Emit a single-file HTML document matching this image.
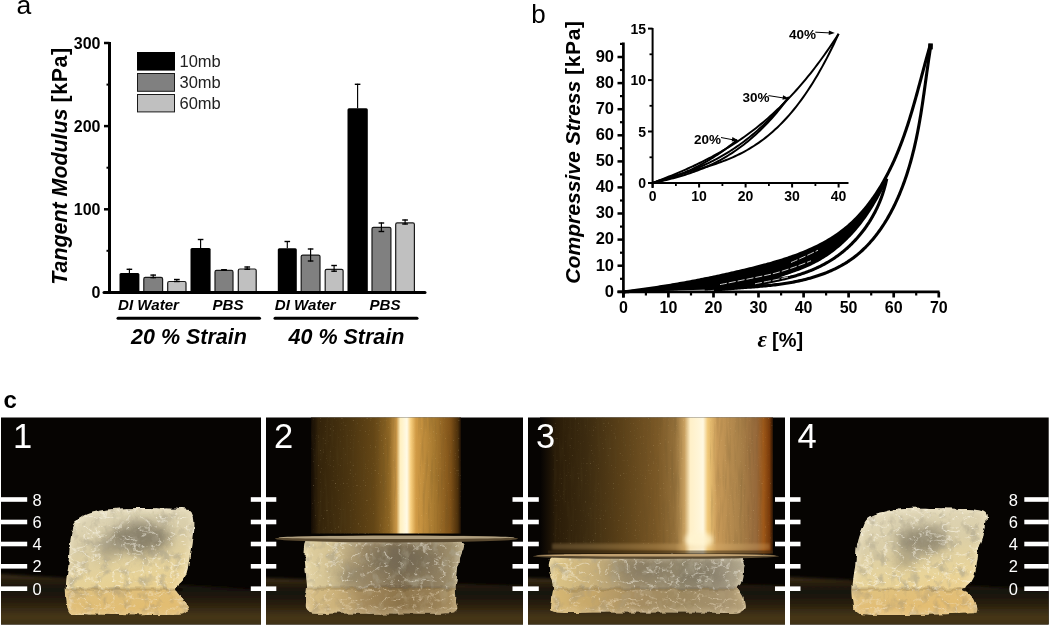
<!DOCTYPE html>
<html><head><meta charset="utf-8"><style>
html,body{margin:0;padding:0;background:#fff;}
body{width:1050px;height:626px;overflow:hidden;position:relative;}
svg{position:absolute;left:0;top:0;will-change:transform;}
text{font-family:"Liberation Sans", sans-serif;}
</style></head><body>
<svg width="1050" height="626" viewBox="0 0 1050 626">
<text x="16.6" y="14.3" font-size="26.5" font-family='"Liberation Sans", sans-serif'>a</text>
<line x1="109.5" y1="42" x2="109.5" y2="293.5" stroke="#000" stroke-width="3"/>
<line x1="104" y1="292.4" x2="109.5" y2="292.4" stroke="#000" stroke-width="2.5"/>
<text x="100.5" y="298.3" text-anchor="end" font-size="16" font-weight="bold">0</text>
<line x1="104" y1="209.3" x2="109.5" y2="209.3" stroke="#000" stroke-width="2.5"/>
<text x="100.5" y="215.2" text-anchor="end" font-size="16" font-weight="bold">100</text>
<line x1="104" y1="126.1" x2="109.5" y2="126.1" stroke="#000" stroke-width="2.5"/>
<text x="100.5" y="132.0" text-anchor="end" font-size="16" font-weight="bold">200</text>
<line x1="104" y1="43.0" x2="109.5" y2="43.0" stroke="#000" stroke-width="2.5"/>
<text x="100.5" y="48.9" text-anchor="end" font-size="16" font-weight="bold">300</text>
<line x1="106.5" y1="250.8" x2="109.5" y2="250.8" stroke="#000" stroke-width="2"/>
<line x1="106.5" y1="167.7" x2="109.5" y2="167.7" stroke="#000" stroke-width="2"/>
<line x1="106.5" y1="84.6" x2="109.5" y2="84.6" stroke="#000" stroke-width="2"/>
<rect x="119.5" y="273.0" width="19.9" height="19.0" rx="1.5" fill="#000"/>
<line x1="129.4" y1="268.7" x2="129.4" y2="273.0" stroke="#000" stroke-width="1.15"/>
<line x1="126.6" y1="269.3" x2="132.2" y2="269.3" stroke="#000" stroke-width="1.4"/>
<rect x="143.8" y="277.4" width="18.8" height="15.2" rx="1.5" fill="#808080" stroke="#1a1a1a" stroke-width="1.2"/>
<line x1="153.2" y1="274.5" x2="153.2" y2="278.2" stroke="#000" stroke-width="1.15"/>
<line x1="150.4" y1="275.1" x2="156.0" y2="275.1" stroke="#000" stroke-width="1.4"/>
<line x1="150.4" y1="277.6" x2="156.0" y2="277.6" stroke="#000" stroke-width="1.4"/>
<rect x="167.7" y="281.5" width="18.3" height="11.1" rx="1.5" fill="#c0c0c0" stroke="#1a1a1a" stroke-width="1.2"/>
<line x1="176.8" y1="278.9" x2="176.8" y2="282.1" stroke="#000" stroke-width="1.15"/>
<line x1="174.0" y1="279.5" x2="179.7" y2="279.5" stroke="#000" stroke-width="1.4"/>
<line x1="174.0" y1="281.5" x2="179.7" y2="281.5" stroke="#000" stroke-width="1.4"/>
<rect x="190.5" y="248.0" width="20.1" height="44.0" rx="1.5" fill="#000"/>
<line x1="200.6" y1="238.9" x2="200.6" y2="248.0" stroke="#000" stroke-width="1.15"/>
<line x1="197.8" y1="239.5" x2="203.4" y2="239.5" stroke="#000" stroke-width="1.4"/>
<rect x="215.0" y="270.4" width="18.0" height="22.2" rx="1.5" fill="#808080" stroke="#1a1a1a" stroke-width="1.2"/>
<line x1="224.0" y1="269.4" x2="224.0" y2="270.4" stroke="#000" stroke-width="1.15"/>
<line x1="221.2" y1="270.0" x2="226.8" y2="270.0" stroke="#000" stroke-width="1.4"/>
<line x1="221.2" y1="269.8" x2="226.8" y2="269.8" stroke="#000" stroke-width="1.4"/>
<rect x="238.3" y="269.0" width="17.9" height="23.6" rx="1.5" fill="#c0c0c0" stroke="#1a1a1a" stroke-width="1.2"/>
<line x1="247.2" y1="266.4" x2="247.2" y2="269.8" stroke="#000" stroke-width="1.15"/>
<line x1="244.4" y1="267.0" x2="250.1" y2="267.0" stroke="#000" stroke-width="1.4"/>
<line x1="244.4" y1="269.2" x2="250.1" y2="269.2" stroke="#000" stroke-width="1.4"/>
<rect x="277.8" y="248.2" width="19.0" height="43.8" rx="1.5" fill="#000"/>
<line x1="287.3" y1="240.9" x2="287.3" y2="248.2" stroke="#000" stroke-width="1.15"/>
<line x1="284.5" y1="241.5" x2="290.1" y2="241.5" stroke="#000" stroke-width="1.4"/>
<rect x="301.2" y="255.1" width="18.8" height="37.5" rx="1.5" fill="#808080" stroke="#1a1a1a" stroke-width="1.2"/>
<line x1="310.6" y1="248.4" x2="310.6" y2="261.6" stroke="#000" stroke-width="1.15"/>
<line x1="307.8" y1="249.0" x2="313.4" y2="249.0" stroke="#000" stroke-width="1.4"/>
<line x1="307.8" y1="261.0" x2="313.4" y2="261.0" stroke="#000" stroke-width="1.4"/>
<rect x="325.2" y="269.3" width="17.9" height="23.3" rx="1.5" fill="#c0c0c0" stroke="#1a1a1a" stroke-width="1.2"/>
<line x1="334.1" y1="264.9" x2="334.1" y2="271.8" stroke="#000" stroke-width="1.15"/>
<line x1="331.3" y1="265.5" x2="336.9" y2="265.5" stroke="#000" stroke-width="1.4"/>
<line x1="331.3" y1="271.2" x2="336.9" y2="271.2" stroke="#000" stroke-width="1.4"/>
<rect x="347.5" y="108.3" width="20.3" height="183.7" rx="1.5" fill="#000"/>
<line x1="357.6" y1="83.7" x2="357.6" y2="108.3" stroke="#000" stroke-width="1.15"/>
<line x1="354.8" y1="84.3" x2="360.4" y2="84.3" stroke="#000" stroke-width="1.4"/>
<rect x="372.0" y="227.3" width="18.9" height="65.3" rx="1.5" fill="#808080" stroke="#1a1a1a" stroke-width="1.2"/>
<line x1="381.4" y1="222.4" x2="381.4" y2="232.1" stroke="#000" stroke-width="1.15"/>
<line x1="378.6" y1="223.0" x2="384.2" y2="223.0" stroke="#000" stroke-width="1.4"/>
<line x1="378.6" y1="231.5" x2="384.2" y2="231.5" stroke="#000" stroke-width="1.4"/>
<rect x="395.7" y="222.9" width="18.7" height="69.7" rx="1.5" fill="#c0c0c0" stroke="#1a1a1a" stroke-width="1.2"/>
<line x1="405.1" y1="219.4" x2="405.1" y2="224.6" stroke="#000" stroke-width="1.15"/>
<line x1="402.2" y1="220.0" x2="407.9" y2="220.0" stroke="#000" stroke-width="1.4"/>
<line x1="402.2" y1="224.0" x2="407.9" y2="224.0" stroke="#000" stroke-width="1.4"/>
<line x1="104" y1="292.4" x2="425" y2="292.4" stroke="#000" stroke-width="3" stroke-linecap="round"/>
<g font-size="15.1" font-weight="bold" font-style="italic">
<text x="118" y="309.8">DI Water</text><text x="212.5" y="309.8">PBS</text>
<text x="274.8" y="309.8">DI Water</text><text x="369.5" y="309.8">PBS</text></g>
<line x1="118" y1="318.3" x2="259.5" y2="318.3" stroke="#000" stroke-width="3" stroke-linecap="round"/>
<line x1="275" y1="318.3" x2="417" y2="318.3" stroke="#000" stroke-width="3" stroke-linecap="round"/>
<g font-size="21.5" font-weight="bold" font-style="italic">
<text x="131" y="343.6">20 % Strain</text><text x="288.5" y="343.6">40 % Strain</text></g>
<rect x="137" y="52" width="38" height="18.6" fill="#000"/>
<rect x="137.5" y="73.5" width="37" height="17.8" fill="#808080" stroke="#1a1a1a" stroke-width="1"/>
<rect x="137.5" y="94.5" width="37" height="17.4" fill="#c0c0c0" stroke="#1a1a1a" stroke-width="1"/>
<g font-size="16.5" fill="#222">
<text x="179.5" y="67.3">10mb</text><text x="179.5" y="88.3">30mb</text><text x="179.5" y="109.3">60mb</text></g>
<text transform="translate(66.5,166) rotate(-90)" text-anchor="middle" font-size="21.4" font-weight="bold"><tspan font-style="italic">Tangent Modulus</tspan> <tspan letter-spacing="0.6">[kPa]</tspan></text>
<text x="531.2" y="22.9" font-size="26" font-family='"Liberation Sans", sans-serif'>b</text>
<line x1="623.4" y1="42.5" x2="623.4" y2="297.5" stroke="#000" stroke-width="2.7"/>
<line x1="617.5" y1="291.8" x2="939.5" y2="291.8" stroke="#000" stroke-width="2.8"/>
<line x1="617.5" y1="291.8" x2="623.4" y2="291.8" stroke="#000" stroke-width="2.5"/>
<text x="614" y="296.6" text-anchor="end" font-size="16.5" font-weight="bold">0</text>
<line x1="620" y1="278.8" x2="623.4" y2="278.8" stroke="#000" stroke-width="2.2"/>
<line x1="617.5" y1="265.7" x2="623.4" y2="265.7" stroke="#000" stroke-width="2.5"/>
<text x="614" y="270.5" text-anchor="end" font-size="16.5" font-weight="bold">10</text>
<line x1="620" y1="252.7" x2="623.4" y2="252.7" stroke="#000" stroke-width="2.2"/>
<line x1="617.5" y1="239.6" x2="623.4" y2="239.6" stroke="#000" stroke-width="2.5"/>
<text x="614" y="244.4" text-anchor="end" font-size="16.5" font-weight="bold">20</text>
<line x1="620" y1="226.6" x2="623.4" y2="226.6" stroke="#000" stroke-width="2.2"/>
<line x1="617.5" y1="213.5" x2="623.4" y2="213.5" stroke="#000" stroke-width="2.5"/>
<text x="614" y="218.3" text-anchor="end" font-size="16.5" font-weight="bold">30</text>
<line x1="620" y1="200.5" x2="623.4" y2="200.5" stroke="#000" stroke-width="2.2"/>
<line x1="617.5" y1="187.4" x2="623.4" y2="187.4" stroke="#000" stroke-width="2.5"/>
<text x="614" y="192.2" text-anchor="end" font-size="16.5" font-weight="bold">40</text>
<line x1="620" y1="174.4" x2="623.4" y2="174.4" stroke="#000" stroke-width="2.2"/>
<line x1="617.5" y1="161.4" x2="623.4" y2="161.4" stroke="#000" stroke-width="2.5"/>
<text x="614" y="166.2" text-anchor="end" font-size="16.5" font-weight="bold">50</text>
<line x1="620" y1="148.3" x2="623.4" y2="148.3" stroke="#000" stroke-width="2.2"/>
<line x1="617.5" y1="135.3" x2="623.4" y2="135.3" stroke="#000" stroke-width="2.5"/>
<text x="614" y="140.1" text-anchor="end" font-size="16.5" font-weight="bold">60</text>
<line x1="620" y1="122.2" x2="623.4" y2="122.2" stroke="#000" stroke-width="2.2"/>
<line x1="617.5" y1="109.2" x2="623.4" y2="109.2" stroke="#000" stroke-width="2.5"/>
<text x="614" y="114.0" text-anchor="end" font-size="16.5" font-weight="bold">70</text>
<line x1="620" y1="96.1" x2="623.4" y2="96.1" stroke="#000" stroke-width="2.2"/>
<line x1="617.5" y1="83.1" x2="623.4" y2="83.1" stroke="#000" stroke-width="2.5"/>
<text x="614" y="87.9" text-anchor="end" font-size="16.5" font-weight="bold">80</text>
<line x1="620" y1="70.0" x2="623.4" y2="70.0" stroke="#000" stroke-width="2.2"/>
<line x1="617.5" y1="57.0" x2="623.4" y2="57.0" stroke="#000" stroke-width="2.5"/>
<text x="614" y="61.8" text-anchor="end" font-size="16.5" font-weight="bold">90</text>
<line x1="620" y1="43.9" x2="623.4" y2="43.9" stroke="#000" stroke-width="2.2"/>
<line x1="623.4" y1="291.8" x2="623.4" y2="297.5" stroke="#000" stroke-width="2.7"/>
<text x="623.4" y="312.5" text-anchor="middle" font-size="16" font-weight="bold">0</text>
<line x1="645.9" y1="291.8" x2="645.9" y2="295.5" stroke="#000" stroke-width="2.2"/>
<line x1="668.4" y1="291.8" x2="668.4" y2="297.5" stroke="#000" stroke-width="2.7"/>
<text x="668.4" y="312.5" text-anchor="middle" font-size="16" font-weight="bold">10</text>
<line x1="691.0" y1="291.8" x2="691.0" y2="295.5" stroke="#000" stroke-width="2.2"/>
<line x1="713.5" y1="291.8" x2="713.5" y2="297.5" stroke="#000" stroke-width="2.7"/>
<text x="713.5" y="312.5" text-anchor="middle" font-size="16" font-weight="bold">20</text>
<line x1="736.0" y1="291.8" x2="736.0" y2="295.5" stroke="#000" stroke-width="2.2"/>
<line x1="758.5" y1="291.8" x2="758.5" y2="297.5" stroke="#000" stroke-width="2.7"/>
<text x="758.5" y="312.5" text-anchor="middle" font-size="16" font-weight="bold">30</text>
<line x1="781.1" y1="291.8" x2="781.1" y2="295.5" stroke="#000" stroke-width="2.2"/>
<line x1="803.6" y1="291.8" x2="803.6" y2="297.5" stroke="#000" stroke-width="2.7"/>
<text x="803.6" y="312.5" text-anchor="middle" font-size="16" font-weight="bold">40</text>
<line x1="826.1" y1="291.8" x2="826.1" y2="295.5" stroke="#000" stroke-width="2.2"/>
<line x1="848.6" y1="291.8" x2="848.6" y2="297.5" stroke="#000" stroke-width="2.7"/>
<text x="848.6" y="312.5" text-anchor="middle" font-size="16" font-weight="bold">50</text>
<line x1="871.2" y1="291.8" x2="871.2" y2="295.5" stroke="#000" stroke-width="2.2"/>
<line x1="893.7" y1="291.8" x2="893.7" y2="297.5" stroke="#000" stroke-width="2.7"/>
<text x="893.7" y="312.5" text-anchor="middle" font-size="16" font-weight="bold">60</text>
<line x1="916.2" y1="291.8" x2="916.2" y2="295.5" stroke="#000" stroke-width="2.2"/>
<line x1="938.8" y1="291.8" x2="938.8" y2="297.5" stroke="#000" stroke-width="2.7"/>
<text x="938.8" y="312.5" text-anchor="middle" font-size="16" font-weight="bold">70</text>
<text transform="translate(579.5,152) rotate(-90)" text-anchor="middle" font-size="21.1" font-weight="bold"><tspan font-style="italic">Compressive Stress</tspan> <tspan letter-spacing="0.6">[kPa]</tspan></text>
<text x="757.5" y="347" font-size="23" font-weight="bold" font-style="italic" style="font-family:&quot;Liberation Serif&quot;, serif">&#949;</text>
<text x="772" y="346.5" font-size="20" font-weight="bold">[%]</text>
<line x1="652.6" y1="28" x2="652.6" y2="188" stroke="#000" stroke-width="2"/>
<line x1="648" y1="183.0" x2="848.5" y2="183.0" stroke="#000" stroke-width="2"/>
<line x1="648" y1="183.0" x2="652.6" y2="183.0" stroke="#000" stroke-width="2"/>
<text x="646" y="188.0" text-anchor="end" font-size="14" font-weight="bold">0</text>
<line x1="649.5" y1="157.3" x2="652.6" y2="157.3" stroke="#000" stroke-width="1.8"/>
<line x1="648" y1="131.5" x2="652.6" y2="131.5" stroke="#000" stroke-width="2"/>
<text x="646" y="136.5" text-anchor="end" font-size="14" font-weight="bold">5</text>
<line x1="649.5" y1="105.8" x2="652.6" y2="105.8" stroke="#000" stroke-width="1.8"/>
<line x1="648" y1="80.1" x2="652.6" y2="80.1" stroke="#000" stroke-width="2"/>
<text x="646" y="85.1" text-anchor="end" font-size="14" font-weight="bold">10</text>
<line x1="649.5" y1="54.3" x2="652.6" y2="54.3" stroke="#000" stroke-width="1.8"/>
<line x1="648" y1="28.6" x2="652.6" y2="28.6" stroke="#000" stroke-width="2"/>
<text x="646" y="33.6" text-anchor="end" font-size="14" font-weight="bold">15</text>
<line x1="652.6" y1="183.0" x2="652.6" y2="187.5" stroke="#000" stroke-width="2"/>
<text x="652.6" y="201" text-anchor="middle" font-size="14" font-weight="bold">0</text>
<line x1="675.9" y1="183.0" x2="675.9" y2="186" stroke="#000" stroke-width="1.8"/>
<line x1="699.1" y1="183.0" x2="699.1" y2="187.5" stroke="#000" stroke-width="2"/>
<text x="699.1" y="201" text-anchor="middle" font-size="14" font-weight="bold">10</text>
<line x1="722.4" y1="183.0" x2="722.4" y2="186" stroke="#000" stroke-width="1.8"/>
<line x1="745.6" y1="183.0" x2="745.6" y2="187.5" stroke="#000" stroke-width="2"/>
<text x="745.6" y="201" text-anchor="middle" font-size="14" font-weight="bold">20</text>
<line x1="768.9" y1="183.0" x2="768.9" y2="186" stroke="#000" stroke-width="1.8"/>
<line x1="792.1" y1="183.0" x2="792.1" y2="187.5" stroke="#000" stroke-width="2"/>
<text x="792.1" y="201" text-anchor="middle" font-size="14" font-weight="bold">30</text>
<line x1="815.4" y1="183.0" x2="815.4" y2="186" stroke="#000" stroke-width="1.8"/>
<line x1="838.6" y1="183.0" x2="838.6" y2="187.5" stroke="#000" stroke-width="2"/>
<text x="838.6" y="201" text-anchor="middle" font-size="14" font-weight="bold">40</text>
<path d="M623.40,291.84 L625.30,291.62 L627.19,291.39 L629.09,291.16 L630.98,290.93 L632.88,290.69 L634.78,290.45 L636.67,290.21 L638.57,289.96 L640.46,289.71 L642.36,289.45 L644.26,289.19 L646.15,288.93 L648.05,288.66 L649.94,288.39 L651.84,288.12 L653.74,287.84 L655.63,287.56 L657.53,287.27 L659.42,286.98 L661.32,286.69 L663.22,286.39 L665.11,286.09 L667.01,285.78 L668.90,285.47 L670.80,285.16 L672.70,284.84 L674.59,284.52 L676.49,284.20 L678.38,283.87 L680.28,283.54 L682.18,283.20 L684.07,282.86 L685.97,282.52 L687.86,282.17 L689.76,281.82 L691.66,281.47 L693.55,281.11 L695.45,280.74 L697.34,280.38 L699.24,280.01 L701.14,279.63 L703.03,279.26 L704.93,278.87 L706.82,278.49 L708.72,278.10 L710.62,277.71 L712.51,277.31 L714.41,276.91 L716.30,276.51 L718.20,276.10 L720.10,275.69 L721.99,275.28 L723.89,274.86 L725.78,274.44 L727.68,274.02 L729.58,273.59 L731.47,273.16 L733.37,272.72 L735.26,272.28 L737.16,271.84 L739.06,271.40 L740.95,270.95 L742.85,270.50 L744.74,270.04 L746.64,269.59 L748.54,269.12 L750.43,268.66 L752.33,268.19 L754.22,267.72 L756.12,267.24 L758.02,266.76 L759.91,266.27 L761.81,265.77 L763.70,265.27 L765.60,264.76 L767.50,264.24 L769.39,263.72 L771.29,263.18 L773.18,262.64 L775.08,262.09 L776.98,261.53 L778.87,260.96 L780.77,260.38 L782.66,259.78 L784.56,259.18 L786.46,258.56 L788.35,257.93 L790.25,257.28 L792.14,256.62 L794.04,255.95 L795.94,255.26 L797.83,254.55 L799.73,253.83 L801.62,253.09 L803.52,252.33 L805.41,251.55 L807.31,250.75 L809.21,249.93 L811.10,249.08 L813.00,248.21 L814.89,247.32 L816.79,246.40 L818.69,245.46 L820.58,244.49 L822.48,243.48 L824.37,242.45 L826.27,241.38 L828.17,240.28 L830.06,239.14 L831.96,237.96 L833.85,236.74 L835.75,235.48 L837.65,234.17 L839.54,232.82 L841.44,231.41 L843.33,229.95 L845.23,228.43 L847.13,226.85 L849.02,225.20 L850.92,223.49 L852.81,221.72 L854.71,219.88 L856.61,217.97 L858.50,215.98 L860.40,213.92 L862.29,211.79 L864.19,209.57 L866.09,207.27 L867.98,204.87 L869.88,202.39 L871.77,199.82 L873.67,197.14 L875.57,194.36 L877.46,191.48 L879.36,188.48 L881.25,185.36 L883.15,182.11 L885.05,178.74 L886.94,175.22 L886.94,178.63 L885.38,180.96 L883.81,184.23 L882.25,187.41 L880.68,190.49 L879.12,193.47 L877.55,196.37 L875.99,199.18 L874.42,201.90 L872.85,204.54 L871.29,207.09 L869.72,209.57 L868.16,211.97 L866.59,214.30 L865.03,216.56 L863.46,218.74 L861.90,220.86 L860.33,222.91 L858.77,224.90 L857.20,226.83 L855.64,228.70 L854.07,230.51 L852.51,232.27 L850.94,233.97 L849.38,235.63 L847.81,237.24 L846.24,238.80 L844.68,240.31 L843.11,241.78 L841.55,243.21 L839.98,244.59 L838.42,245.94 L836.85,247.24 L835.29,248.51 L833.72,249.74 L832.16,250.93 L830.59,252.09 L829.03,253.21 L827.46,254.29 L825.90,255.35 L824.33,256.36 L822.77,257.35 L821.20,258.31 L819.63,259.23 L818.07,260.12 L816.50,260.98 L814.94,261.82 L813.37,262.62 L811.81,263.41 L810.24,264.16 L808.68,264.89 L807.11,265.60 L805.55,266.29 L803.98,266.95 L802.42,267.59 L800.85,268.22 L799.29,268.82 L797.72,269.41 L796.16,269.98 L794.59,270.53 L794.59,281.79 L793.12,282.08 L791.65,282.35 L790.18,282.62 L788.71,282.87 L787.23,283.12 L785.76,283.36 L784.29,283.59 L782.82,283.81 L781.35,284.02 L779.88,284.23 L778.41,284.43 L776.94,284.62 L775.47,284.80 L774.00,284.97 L772.52,285.14 L771.05,285.31 L769.58,285.46 L768.11,285.62 L766.64,285.76 L765.17,285.90 L763.70,286.04 L762.23,286.17 L760.76,286.30 L759.29,286.43 L757.81,286.55 L756.34,286.67 L754.87,286.78 L753.40,286.90 L751.93,287.01 L750.46,287.12 L748.99,287.23 L747.52,287.34 L746.05,287.44 L744.58,287.55 L743.10,287.66 L741.63,287.76 L740.16,287.87 L738.69,287.98 L737.22,288.09 L735.75,288.20 L734.28,288.31 L732.81,288.43 L731.34,288.55 L729.87,288.67 L728.39,288.79 L726.92,288.92 L725.45,289.06 L723.98,289.19 L722.51,289.34 L623.40,291.80 Z" fill="#000"/>
<path d="M778.82,277.60 L780.62,277.00 L782.41,276.38 L784.21,275.73 L786.00,275.07 L787.79,274.38 L789.59,273.66 L791.38,272.92 L793.18,272.15 L794.97,271.36 L796.77,270.53 L798.56,269.68 L800.35,268.79 L802.15,267.88 L803.94,266.97 L805.74,266.20 L807.53,265.41 L809.33,264.59 L811.12,263.74 L812.92,262.86 L814.71,261.94 L816.50,260.98 L818.30,259.99 L820.09,258.96 L821.89,257.89 L823.68,256.78 L825.48,255.62 L827.27,254.42 L829.06,253.18 L830.86,251.89 L832.65,250.56 L834.45,249.18 L836.24,247.74 L838.04,246.26 L839.83,244.73 L841.63,243.14 L843.42,241.50 L845.21,239.80 L847.01,238.04 L848.80,236.22 L850.60,234.34 L852.39,232.39 L854.19,230.38 L855.98,228.29 L857.77,226.13 L859.57,223.89 L861.36,221.57 L863.16,219.16 L864.95,216.67 L866.75,214.08 L868.54,211.40 L870.34,208.61 L872.13,205.73 L873.92,202.74 L875.72,199.65 L877.51,196.44 L879.31,193.11 L881.10,189.67 L882.90,186.10 L884.69,182.41 L884.69,187.26 L882.90,193.20 L881.10,198.30 L879.31,202.81 L877.51,206.88 L875.72,210.61 L873.92,214.06 L872.13,217.27 L870.34,220.28 L868.54,223.12 L866.75,225.80 L864.95,228.34 L863.16,230.75 L861.36,233.05 L859.57,235.24 L857.77,237.34 L855.98,239.35 L854.19,241.27 L852.39,243.11 L850.60,244.88 L848.80,246.58 L847.01,248.21 L845.21,249.78 L843.42,251.29 L841.63,252.74 L839.83,254.13 L838.04,255.48 L836.24,256.76 L834.45,258.00 L832.65,259.20 L830.86,260.34 L829.06,261.44 L827.27,262.50 L825.48,263.51 L823.68,264.48 L821.89,265.42 L820.09,266.32 L818.30,267.19 L816.50,268.02 L814.71,268.82 L812.92,269.60 L811.12,270.34 L809.33,271.06 L807.53,271.75 L805.74,272.41 L803.94,273.05 L802.15,273.49 L800.35,273.88 L798.56,274.25 L796.77,274.61 L794.97,274.96 L793.18,275.29 L791.38,275.62 L789.59,275.93 L787.79,276.23 L786.00,276.52 L784.21,276.81 L782.41,277.08 L780.62,277.34 L778.82,277.60 Z" fill="#fff"/>
<path d="M763.05,284.45 L765.12,284.07 L767.18,283.67 L769.24,283.25 L771.30,282.80 L773.36,282.33 L775.42,281.84 L777.49,281.31 L779.55,280.76 L781.61,280.19 L783.67,279.58 L785.73,278.94 L787.79,278.27 L789.86,277.56 L791.92,276.82 L793.98,276.21 L796.04,275.61 L798.10,274.98 L800.16,274.33 L802.23,273.64 L804.29,272.93 L806.35,272.19 L808.41,271.41 L810.47,270.60 L812.53,269.76 L814.60,268.87 L816.66,267.95 L818.72,266.99 L820.78,265.98 L822.84,264.93 L824.90,263.83 L826.96,262.67 L829.03,261.46 L831.09,260.20 L833.15,258.87 L835.21,257.48 L837.27,256.03 L839.33,254.51 L841.40,252.92 L843.46,251.26 L845.52,249.52 L847.58,247.70 L849.64,245.80 L851.70,243.80 L853.77,241.71 L855.83,239.52 L857.89,237.21 L859.95,234.79 L862.01,232.23 L864.07,229.53 L866.14,226.68 L868.20,223.64 L870.26,220.41 L872.32,216.94 L874.38,213.20 L876.44,209.14 L878.51,204.68 L880.57,199.70 L882.63,194.01 L884.69,187.26 L884.69,222.92 L882.63,226.11 L880.57,229.15 L878.51,232.03 L876.44,234.77 L874.38,237.39 L872.32,239.87 L870.26,242.24 L868.20,244.50 L866.14,246.64 L864.07,248.69 L862.01,250.64 L859.95,252.49 L857.89,254.25 L855.83,255.93 L853.77,257.53 L851.70,259.04 L849.64,260.48 L847.58,261.85 L845.52,263.15 L843.46,264.38 L841.40,265.56 L839.33,266.68 L837.27,267.75 L835.21,268.78 L833.15,269.75 L831.09,270.68 L829.03,271.57 L826.96,272.42 L824.90,273.24 L822.84,274.02 L820.78,274.76 L818.72,275.47 L816.66,276.15 L814.60,276.80 L812.53,277.42 L810.47,278.02 L808.41,278.59 L806.35,279.13 L804.29,279.65 L802.23,280.15 L800.16,280.62 L798.10,281.07 L796.04,281.50 L793.98,281.91 L791.92,282.26 L789.86,282.45 L787.79,282.63 L785.73,282.80 L783.67,282.97 L781.61,283.14 L779.55,283.29 L777.49,283.45 L775.42,283.60 L773.36,283.75 L771.30,283.89 L769.24,284.03 L767.18,284.17 L765.12,284.31 L763.05,284.45 Z" fill="#fff"/>
<path d="M623.37,291.84 L625.15,291.63 L626.93,291.42 L628.92,291.18 L630.69,290.96 L632.46,290.74 L634.44,290.49 L636.20,290.27 L637.96,290.04 L639.94,289.78 L641.69,289.54 L643.66,289.27 L645.41,289.03 L647.16,288.79 L649.12,288.51 L650.86,288.26 L652.60,288.01 L654.55,287.72 L656.29,287.46 L658.02,287.19 L659.97,286.90 L661.70,286.63 L663.65,286.32 L665.38,286.05 L667.10,285.77 L669.04,285.45 L670.77,285.17 L672.49,284.88 L674.42,284.55 L676.14,284.26 L677.86,283.96 L679.79,283.62 L681.51,283.32 L683.44,282.98 L685.15,282.67 L686.87,282.35 L688.79,282.00 L690.51,281.68 L692.22,281.36 L694.15,280.99 L695.86,280.66 L697.57,280.33 L699.49,279.96 L701.20,279.62 L703.13,279.24 L704.84,278.89 L706.55,278.55 L708.48,278.15 L710.19,277.80 L711.90,277.44 L713.82,277.04 L715.54,276.67 L717.25,276.31 L719.18,275.89 L720.89,275.52 L722.82,275.10 L724.54,274.72 L726.25,274.34 L728.19,273.90 L729.90,273.51 L731.62,273.12 L733.56,272.68 L735.28,272.28 L737.01,271.88 L738.95,271.42 L740.67,271.02 L742.62,270.55 L744.35,270.14 L746.08,269.72 L748.03,269.25 L749.76,268.82 L751.50,268.40 L753.45,267.91 L755.19,267.47 L756.92,267.03 L758.88,266.53 L760.62,266.08 L762.57,265.57 L764.31,265.11 L766.04,264.64 L767.99,264.11 L769.72,263.63 L771.45,263.14 L773.40,262.58 L775.12,262.08 L776.84,261.57 L778.78,260.99 L780.49,260.46 L782.42,259.86 L784.12,259.32 L785.83,258.77 L787.74,258.14 L789.43,257.56 L791.12,256.98 L793.01,256.32 L794.69,255.72 L796.36,255.11 L798.23,254.40 L799.88,253.77 L801.74,253.04 L803.38,252.38 L805.02,251.71 L806.85,250.95 L808.46,250.25 L810.07,249.54 L811.88,248.73 L813.47,248.00 L815.05,247.25 L816.82,246.39 L818.38,245.61 L820.13,244.72 L821.67,243.91 L823.20,243.09 L824.91,242.15 L826.42,241.30 L827.91,240.43 L829.58,239.43 L831.05,238.53 L832.51,237.61 L834.14,236.56 L835.57,235.60 L837.17,234.51 L838.57,233.52 L839.96,232.51 L841.51,231.36 L842.87,230.31 L844.22,229.25 L845.71,228.03 L847.03,226.93 L848.33,225.81 L849.78,224.53 L851.05,223.37 L852.47,222.05 L853.71,220.86 L854.94,219.66 L856.30,218.28 L857.50,217.04 L858.69,215.79 L860.01,214.36 L861.16,213.07 L862.31,211.77 L863.58,210.29 L864.70,208.96 L865.94,207.45 L867.02,206.09 L868.10,204.72 L869.29,203.17 L870.34,201.77 L871.38,200.36 L872.53,198.76 L873.54,197.33 L874.54,195.89 L875.64,194.25 L876.61,192.78 L877.69,191.12 L878.64,189.64 L879.57,188.14 L880.60,186.44 L881.51,184.93 L882.41,183.40 L883.40,181.67 L884.27,180.13 L885.13,178.58 L886.09,176.83 L886.92,175.26 L887.85,173.49 L888.66,171.91 L889.46,170.32 L890.35,168.53 L891.13,166.93 L891.89,165.32 L892.74,163.51 L893.49,161.89 L894.22,160.27 L895.03,158.44 L895.74,156.81 L896.53,154.97 L897.22,153.33 L897.90,151.69 L898.65,149.84 L899.31,148.18 L899.96,146.53 L900.69,144.66 L901.32,143.00 L901.94,141.34 L902.64,139.46 L903.24,137.79 L903.92,135.91 L904.51,134.23 L905.09,132.55 L905.74,130.66 L906.31,128.98 L906.87,127.29 L907.50,125.39 L908.04,123.70 L908.59,122.01 L909.19,120.10 L909.72,118.41 L910.31,116.50 L910.83,114.80 L911.34,113.10 L911.91,111.19 L912.42,109.48 L912.92,107.78 L913.47,105.87 L913.96,104.16 L914.45,102.46 L914.99,100.54 L915.47,98.84 L916.01,96.92 L916.48,95.22 L916.95,93.52 L917.48,91.60 L917.94,89.90 L918.40,88.20 L918.92,86.28 L919.38,84.58 L919.84,82.89 L920.35,80.98 L920.81,79.28 L921.32,77.37 L921.77,75.68 L922.22,73.99 L922.73,72.09 L923.19,70.40 L923.64,68.72 L924.15,66.82 L924.60,65.14 L925.06,63.47 L925.57,61.58 L926.03,59.91 L926.55,58.03 L927.01,56.37 L927.47,54.70 L927.99,52.84 L928.46,51.18 L928.93,49.53 L929.46,47.67 L929.94,46.03 L930.48,44.18" fill="none" stroke="#000" stroke-width="3.1" stroke-linejoin="round" stroke-linecap="butt"/>
<path d="M713.89,290.31 L715.31,290.13 L716.74,289.96 L718.35,289.78 L719.78,289.62 L721.23,289.47 L722.86,289.30 L724.31,289.16 L725.77,289.03 L727.42,288.88 L728.89,288.75 L730.55,288.61 L732.03,288.49 L733.52,288.37 L735.19,288.24 L736.69,288.13 L738.18,288.02 L739.87,287.89 L741.38,287.78 L742.89,287.67 L744.59,287.55 L746.10,287.44 L747.81,287.31 L749.33,287.20 L750.85,287.09 L752.57,286.96 L754.10,286.84 L755.63,286.73 L757.35,286.59 L758.89,286.46 L760.42,286.33 L762.15,286.18 L763.69,286.04 L765.42,285.88 L766.96,285.73 L768.50,285.58 L770.23,285.40 L771.77,285.23 L773.31,285.05 L775.05,284.85 L776.59,284.66 L778.13,284.46 L779.86,284.23 L781.40,284.02 L783.13,283.77 L784.67,283.53 L786.20,283.29 L787.93,283.01 L789.46,282.74 L790.99,282.47 L792.71,282.15 L794.23,281.86 L795.76,281.56 L797.46,281.21 L798.98,280.88 L800.68,280.50 L802.18,280.16 L803.68,279.80 L805.37,279.38 L806.86,279.00 L808.35,278.60 L810.01,278.15 L811.49,277.73 L812.96,277.30 L814.60,276.80 L816.06,276.34 L817.69,275.81 L819.13,275.33 L820.57,274.83 L822.17,274.26 L823.59,273.74 L825.00,273.20 L826.58,272.58 L827.98,272.01 L829.36,271.43 L830.91,270.76 L832.28,270.15 L833.80,269.45 L835.15,268.81 L836.48,268.15 L837.98,267.40 L839.29,266.71 L840.59,266.00 L842.05,265.20 L843.33,264.46 L844.60,263.71 L846.01,262.84 L847.26,262.06 L848.64,261.15 L849.86,260.33 L851.06,259.50 L852.40,258.54 L853.58,257.66 L854.75,256.78 L856.05,255.76 L857.18,254.84 L858.31,253.90 L859.56,252.83 L860.66,251.86 L861.89,250.75 L862.96,249.75 L864.03,248.73 L865.21,247.58 L866.24,246.53 L867.27,245.47 L868.41,244.27 L869.41,243.18 L870.40,242.08 L871.50,240.83 L872.46,239.71 L873.53,238.42 L874.47,237.27 L875.40,236.11 L876.44,234.78 L877.34,233.60 L878.24,232.40 L879.23,231.03 L880.10,229.81 L880.96,228.58 L881.91,227.18 L882.75,225.92 L883.68,224.50 L884.50,223.23 L885.30,221.94 L886.19,220.49 L886.97,219.18 L887.75,217.87 L888.60,216.38 L889.35,215.05 L890.09,213.71 L890.91,212.20 L891.63,210.84 L892.43,209.31 L893.13,207.94 L893.82,206.56 L894.58,205.00 L895.25,203.61 L895.91,202.21 L896.63,200.63 L897.27,199.22 L897.90,197.81 L898.60,196.21 L899.21,194.78 L899.88,193.17 L900.47,191.73 L901.05,190.29 L901.70,188.66 L902.26,187.21 L902.81,185.76 L903.42,184.12 L903.96,182.66 L904.49,181.19 L905.07,179.54 L905.58,178.07 L906.14,176.41 L906.63,174.94 L907.11,173.46 L907.65,171.79 L908.11,170.31 L908.57,168.83 L909.08,167.16 L909.52,165.67 L909.95,164.19 L910.43,162.52 L910.84,161.03 L911.30,159.36 L911.70,157.87 L912.10,156.38 L912.53,154.71 L912.91,153.23 L913.28,151.74 L913.69,150.07 L914.05,148.58 L914.40,147.10 L914.79,145.43 L915.12,143.94 L915.50,142.27 L915.82,140.79 L916.14,139.30 L916.49,137.63 L916.80,136.15 L917.10,134.66 L917.44,132.99 L917.73,131.51 L918.01,130.02 L918.33,128.35 L918.61,126.86 L918.91,125.19 L919.18,123.71 L919.45,122.22 L919.74,120.55 L919.99,119.07 L920.24,117.58 L920.52,115.91 L920.77,114.42 L921.01,112.94 L921.28,111.27 L921.51,109.78 L921.77,108.11 L922.00,106.62 L922.23,105.13 L922.48,103.46 L922.70,101.97 L922.92,100.49 L923.16,98.81 L923.38,97.33 L923.59,95.84 L923.83,94.16 L924.04,92.67 L924.28,91.00 L924.49,89.51 L924.70,88.02 L924.93,86.34 L925.14,84.85 L925.34,83.36 L925.57,81.69 L925.78,80.20 L925.99,78.70 L926.22,77.03 L926.42,75.53 L926.66,73.85 L926.86,72.36 L927.07,70.87 L927.31,69.19 L927.52,67.69 L927.73,66.20 L927.97,64.52 L928.18,63.02 L928.40,61.52 L928.64,59.84 L928.86,58.34 L929.11,56.66 L929.34,55.16 L929.57,53.66 L929.82,51.97 L930.06,50.47 L930.29,48.97 L930.56,47.28 L930.80,45.78 L931.08,44.09" fill="none" stroke="#000" stroke-width="3.1" stroke-linejoin="round" stroke-linecap="butt"/>
<path d="M704.63,289.14 L705.51,289.05 L706.39,288.96 L707.39,288.86 L708.28,288.78 L709.17,288.69 L710.17,288.60 L711.07,288.51 L711.96,288.43 L712.98,288.33 L713.88,288.25 L714.89,288.15 L715.80,288.07 L716.70,287.99 L717.72,287.89 L718.63,287.81 L719.54,287.73 L720.57,287.63 L721.48,287.55 L722.40,287.46 L723.43,287.37 L724.34,287.28 L725.38,287.19 L726.30,287.10 L727.22,287.01 L728.26,286.91 L729.18,286.83 L730.11,286.74 L731.15,286.64 L732.08,286.55 L733.00,286.46 L734.05,286.35 L734.98,286.26 L736.03,286.16 L736.96,286.06 L737.89,285.96 L738.94,285.85 L739.87,285.76 L740.80,285.66 L741.86,285.54 L742.79,285.44 L743.73,285.34 L744.78,285.22 L745.71,285.11 L746.77,284.99 L747.70,284.88 L748.64,284.76 L749.70,284.64 L750.63,284.52 L751.57,284.40 L752.62,284.27 L753.56,284.15 L754.50,284.02 L755.55,283.88 L756.49,283.75 L757.54,283.61 L758.48,283.48 L759.42,283.34 L760.47,283.19 L761.41,283.05 L762.34,282.90 L763.39,282.74 L764.33,282.60 L765.26,282.45 L766.31,282.27 L767.24,282.12 L768.29,281.94 L769.22,281.78 L770.15,281.62 L771.20,281.43 L772.12,281.26 L773.05,281.09 L774.09,280.89 L775.02,280.71 L775.94,280.53 L776.98,280.32 L777.91,280.13 L778.94,279.91 L779.86,279.72 L780.78,279.52 L781.81,279.29 L782.73,279.08 L783.64,278.87 L784.67,278.63 L785.58,278.41 L786.49,278.19 L787.51,277.94 L788.42,277.71 L789.44,277.45 L790.34,277.21 L791.24,276.97 L792.25,276.69 L793.15,276.44 L794.05,276.19 L795.05,275.90 L795.95,275.64 L796.84,275.37 L797.83,275.06 L798.72,274.79 L799.71,274.47 L800.60,274.19 L801.47,273.90 L802.46,273.56 L803.33,273.26 L804.21,272.96 L805.18,272.61 L806.05,272.30 L806.92,271.98 L807.89,271.61 L808.74,271.28 L809.71,270.91 L810.56,270.57 L811.41,270.22 L812.37,269.83 L813.21,269.47 L814.05,269.11 L815.00,268.70 L815.83,268.33 L816.67,267.95 L817.60,267.52 L818.43,267.13 L819.36,266.68 L820.18,266.28 L820.99,265.87 L821.91,265.41 L822.72,264.99 L823.53,264.57 L824.43,264.08 L825.23,263.64 L826.03,263.20 L826.92,262.70 L827.71,262.24 L828.60,261.72 L829.38,261.25 L830.16,260.78 L831.03,260.24 L831.80,259.75 L832.56,259.25 L833.42,258.69 L834.18,258.18 L834.94,257.67 L835.78,257.09 L836.53,256.56 L837.37,255.96 L838.10,255.43 L838.84,254.88 L839.66,254.26 L840.39,253.71 L841.11,253.15 L841.92,252.51 L842.63,251.94 L843.34,251.36 L844.13,250.70 L844.83,250.11 L845.62,249.44 L846.31,248.83 L846.99,248.23 L847.76,247.54 L848.44,246.92 L849.11,246.29 L849.86,245.59 L850.53,244.95 L851.19,244.31 L851.92,243.58 L852.57,242.93 L853.30,242.19 L853.94,241.53 L854.57,240.86 L855.28,240.10 L855.91,239.43 L856.53,238.74 L857.22,237.97 L857.83,237.28 L858.44,236.58 L859.11,235.79 L859.71,235.08 L860.37,234.28 L860.95,233.56 L861.53,232.84 L862.18,232.02 L862.75,231.29 L863.31,230.55 L863.94,229.71 L864.49,228.97 L865.04,228.22 L865.65,227.37 L866.19,226.61 L866.78,225.75 L867.31,224.98 L867.83,224.20 L868.40,223.33 L868.91,222.54 L869.42,221.76 L869.97,220.87 L870.47,220.07 L870.95,219.27 L871.49,218.37 L871.96,217.56 L872.49,216.65 L872.95,215.83 L873.41,215.01 L873.91,214.08 L874.35,213.26 L874.79,212.42 L875.28,211.48 L875.70,210.64 L876.12,209.80 L876.59,208.85 L876.99,208.00 L877.44,207.03 L877.84,206.17 L878.22,205.31 L878.65,204.34 L879.03,203.47 L879.40,202.60 L879.80,201.61 L880.16,200.73 L880.51,199.85 L880.89,198.85 L881.23,197.96 L881.60,196.96 L881.92,196.06 L882.24,195.16 L882.58,194.14 L882.88,193.24 L883.18,192.33 L883.50,191.30 L883.79,190.39 L884.06,189.47 L884.36,188.43 L884.62,187.51 L884.91,186.46 L885.15,185.53 L885.39,184.60 L885.66,183.55 L885.88,182.61 L886.10,181.67 L886.34,180.60 L886.54,179.66 L886.76,178.59" fill="none" stroke="#000" stroke-width="3.1" stroke-linejoin="round" stroke-linecap="butt"/>
<path d="M623.50,291.97 L624.71,291.89 L625.93,291.80 L627.29,291.70 L628.51,291.62 L629.72,291.53 L631.09,291.44 L632.30,291.36 L633.52,291.27 L634.89,291.18 L636.11,291.10 L637.47,291.02 L638.69,290.94 L639.91,290.86 L641.28,290.77 L642.50,290.70 L643.72,290.62 L645.09,290.54 L646.30,290.46 L647.52,290.39 L648.90,290.31 L650.12,290.23 L651.49,290.15 L652.71,290.08 L653.93,290.00 L655.30,289.92 L656.52,289.85 L657.74,289.78 L659.12,289.69 L660.34,289.62 L661.56,289.55 L662.93,289.47 L664.16,289.39 L665.53,289.31 L666.75,289.24 L667.98,289.16 L669.35,289.08 L670.57,289.00 L671.80,288.93 L673.17,288.84 L674.40,288.76 L675.62,288.69 L677.00,288.60 L678.22,288.52 L679.60,288.43 L680.82,288.35 L682.05,288.27 L683.43,288.18 L684.65,288.09 L685.88,288.01 L687.25,287.91 L688.48,287.82 L689.70,287.74 L691.08,287.64 L692.31,287.55 L693.69,287.44 L694.91,287.35 L696.14,287.26 L697.52,287.15 L698.74,287.05 L699.97,286.95 L701.35,286.84 L702.58,286.74 L703.80,286.63 L705.18,286.51 L706.41,286.41 L707.79,286.28 L709.02,286.17 L710.24,286.06 L711.62,285.93 L712.85,285.81 L714.08,285.70 L715.46,285.56 L716.69,285.44 L717.91,285.31 L719.29,285.17 L720.52,285.04 L721.90,284.89 L723.13,284.75 L724.36,284.62 L725.74,284.46 L726.97,284.32 L728.19,284.17 L729.57,284.00 L730.80,283.85 L732.03,283.70 L733.41,283.53 L734.64,283.37 L736.02,283.19 L737.25,283.02 L738.47,282.85 L739.86,282.66 L741.08,282.49 L742.31,282.31 L743.69,282.11 L744.92,281.93 L746.15,281.74 L747.53,281.53 L748.75,281.33 L750.13,281.11 L751.36,280.91 L752.59,280.71 L753.97,280.48 L755.20,280.26 L756.42,280.05 L757.80,279.80 L759.02,279.58 L760.25,279.35 L761.62,279.09 L762.84,278.85 L764.22,278.58 L765.44,278.34 L766.65,278.08 L768.02,277.80 L769.24,277.53 L770.45,277.27 L771.81,276.96 L773.02,276.68 L774.23,276.40 L775.58,276.07 L776.79,275.78 L778.14,275.43 L779.33,275.13 L780.53,274.81 L781.87,274.45 L783.06,274.12 L784.25,273.79 L785.58,273.40 L786.76,273.05 L787.93,272.70 L789.25,272.29 L790.42,271.92 L791.74,271.49 L792.90,271.11 L794.06,270.71 L795.36,270.26 L796.51,269.85 L797.65,269.43 L798.94,268.95 L800.08,268.52 L801.21,268.08 L802.48,267.57 L803.60,267.11 L804.86,266.58 L805.98,266.10 L807.08,265.61 L808.33,265.05 L809.43,264.55 L810.52,264.03 L811.74,263.44 L812.82,262.90 L813.90,262.36 L815.11,261.73 L816.17,261.16 L817.36,260.52 L818.41,259.93 L819.46,259.33 L820.63,258.65 L821.66,258.03 L822.69,257.40 L823.84,256.68 L824.85,256.03 L825.86,255.37 L826.99,254.62 L827.98,253.94 L829.09,253.16 L830.07,252.46 L831.05,251.75 L832.14,250.94 L833.10,250.22 L834.06,249.48 L835.13,248.64 L836.07,247.88 L837.01,247.12 L838.05,246.25 L838.98,245.46 L840.01,244.57 L840.92,243.77 L841.82,242.96 L842.83,242.04 L843.72,241.22 L844.61,240.38 L845.59,239.43 L846.46,238.58 L847.33,237.72 L848.29,236.75 L849.14,235.87 L850.09,234.88 L850.93,233.99 L851.76,233.09 L852.68,232.07 L853.50,231.16 L854.31,230.24 L855.21,229.19 L856.01,228.26 L856.80,227.31 L857.68,226.25 L858.45,225.29 L859.32,224.21 L860.08,223.24 L860.83,222.26 L861.68,221.16 L862.42,220.17 L863.15,219.17 L863.97,218.05 L864.69,217.04 L865.40,216.02 L866.20,214.88 L866.90,213.85 L867.68,212.70 L868.37,211.66 L869.05,210.62 L869.81,209.45 L870.47,208.40 L871.13,207.34 L871.87,206.15 L872.52,205.09 L873.16,204.02 L873.88,202.82 L874.51,201.75 L875.21,200.53 L875.83,199.45 L876.44,198.37 L877.12,197.14 L877.72,196.05 L878.32,194.96 L878.98,193.73 L879.56,192.63 L880.14,191.53 L880.78,190.29 L881.35,189.19 L881.98,187.94 L882.53,186.83 L883.08,185.72 L883.69,184.48 L884.23,183.36 L884.77,182.25 L885.36,181.00 L885.88,179.88 L886.46,178.63" fill="none" stroke="#000" stroke-width="3.1" stroke-linejoin="round" stroke-linecap="butt"/>
<rect x="928.2" y="43.4" width="4.6" height="6" fill="#000"/>
<path d="M720.0,284.6 C725.7,283.5 745.0,279.6 754.3,277.7 C763.6,275.8 769.0,274.8 775.7,273.0 C782.4,271.2 788.7,269.0 794.6,267.0 C800.5,265.0 808.3,261.8 811.0,260.8" fill="none" stroke="#fff" stroke-width="0.9" stroke-dasharray="7 2" opacity="0.9"/>
<path d="M791.0,262.5 C793.2,261.6 799.5,258.9 804.0,256.8 C808.5,254.8 815.7,251.3 818.0,250.2" fill="none" stroke="#fff" stroke-width="0.9" stroke-dasharray="7 2" opacity="0.9"/>
<path d="M755.0,283.8 C757.8,283.2 766.5,281.6 772.0,280.5 C777.5,279.4 785.3,277.6 788.0,277.0" fill="none" stroke="#fff" stroke-width="0.9" stroke-dasharray="7 2" opacity="0.9"/>
<path d="M652.60,183.00 L654.95,182.09 L657.31,181.18 L659.66,180.26 L662.02,179.34 L664.37,178.41 L666.73,177.47 L669.08,176.52 L671.44,175.56 L673.79,174.59 L676.14,173.61 L678.50,172.62 L680.85,171.61 L683.21,170.59 L685.56,169.56 L687.92,168.51 L690.27,167.44 L692.63,166.36 L694.98,165.26 L697.33,164.14 L699.69,163.01 L702.04,161.85 L704.40,160.67 L706.75,159.47 L709.11,158.25 L711.46,157.01 L713.82,155.74 L716.17,154.44 L718.52,153.13 L720.88,151.78 L723.23,150.41 L725.59,149.01 L727.94,147.58 L730.30,146.12 L732.65,144.64 L735.01,143.12 L737.36,141.57 L739.71,139.98 L742.07,138.37 L744.42,136.72 L746.78,135.03 L749.13,133.31 L751.49,131.56 L753.84,129.76 L756.19,127.93 L758.55,126.06 L760.90,124.15 L763.26,122.20 L765.61,120.21 L767.97,118.17 L770.32,116.10 L772.68,113.98 L775.03,111.81 L777.38,109.60 L779.74,107.35 L782.09,105.05 L784.45,102.70 L786.80,100.30 L789.16,97.86 L791.51,95.36 L793.87,92.81 L796.22,90.22 L798.57,87.57 L800.93,84.86 L803.28,82.11 L805.64,79.30 L807.99,76.43 L810.35,73.51 L812.70,70.53 L815.06,67.50 L817.41,64.40 L819.76,61.25 L822.12,58.03 L824.47,54.76 L826.83,51.42 L829.18,48.03 L831.54,44.57 L833.89,41.04 L836.25,37.45 L838.60,33.80" fill="none" stroke="#000" stroke-width="2.0" stroke-linejoin="round"/>
<path d="M652.60,183.00 L654.95,182.11 L657.31,181.26 L659.66,180.43 L662.02,179.64 L664.37,178.86 L666.73,178.11 L669.08,177.39 L671.44,176.68 L673.79,175.98 L676.14,175.30 L678.50,174.63 L680.85,173.97 L683.21,173.32 L685.56,172.68 L687.92,172.03 L690.27,171.39 L692.63,170.74 L694.98,170.09 L697.33,169.44 L699.69,168.77 L702.04,168.10 L704.40,167.41 L706.75,166.71 L709.11,165.99 L711.46,165.25 L713.82,164.48 L716.17,163.70 L718.52,162.89 L720.88,162.04 L723.23,161.17 L725.59,160.27 L727.94,159.32 L730.30,158.35 L732.65,157.33 L735.01,156.27 L737.36,155.16 L739.71,154.01 L742.07,152.81 L744.42,151.56 L746.78,150.25 L749.13,148.89 L751.49,147.47 L753.84,145.99 L756.19,144.45 L758.55,142.85 L760.90,141.18 L763.26,139.43 L765.61,137.62 L767.97,135.73 L770.32,133.77 L772.68,131.73 L775.03,129.61 L777.38,127.41 L779.74,125.12 L782.09,122.75 L784.45,120.28 L786.80,117.73 L789.16,115.08 L791.51,112.33 L793.87,109.49 L796.22,106.54 L798.57,103.50 L800.93,100.34 L803.28,97.08 L805.64,93.72 L807.99,90.24 L810.35,86.64 L812.70,82.93 L815.06,79.10 L817.41,75.15 L819.76,71.08 L822.12,66.88 L824.47,62.56 L826.83,58.10 L829.18,53.52 L831.54,48.80 L833.89,43.94 L836.25,38.94 L838.60,33.81" fill="none" stroke="#000" stroke-width="2.0" stroke-linejoin="round"/>
<path d="M652.60,183.00 L654.32,182.52 L656.05,182.03 L657.77,181.54 L659.50,181.04 L661.22,180.54 L662.95,180.03 L664.67,179.52 L666.40,179.00 L668.12,178.47 L669.85,177.93 L671.57,177.39 L673.30,176.84 L675.02,176.28 L676.74,175.71 L678.47,175.14 L680.19,174.55 L681.92,173.95 L683.64,173.34 L685.37,172.72 L687.09,172.08 L688.82,171.44 L690.54,170.78 L692.27,170.10 L693.99,169.42 L695.72,168.72 L697.44,168.00 L699.16,167.27 L700.89,166.53 L702.61,165.76 L704.34,164.99 L706.06,164.19 L707.79,163.38 L709.51,162.55 L711.24,161.70 L712.96,160.83 L714.69,159.94 L716.41,159.03 L718.14,158.11 L719.86,157.16 L721.58,156.19 L723.31,155.20 L725.03,154.19 L726.76,153.15 L728.48,152.09 L730.21,151.01 L731.93,149.91 L733.66,148.78 L735.38,147.62 L737.11,146.44 L738.83,145.24 L740.56,144.01 L742.28,142.75 L744.00,141.46 L745.73,140.15 L747.45,138.81 L749.18,137.44 L750.90,136.05 L752.63,134.62 L754.35,133.16 L756.08,131.68 L757.80,130.16 L759.53,128.61 L761.25,127.03 L762.98,125.42 L764.70,123.77 L766.42,122.10 L768.15,120.38 L769.87,118.64 L771.60,116.86 L773.32,115.05 L775.05,113.20 L776.77,111.31 L778.50,109.39 L780.22,107.43 L781.95,105.44 L783.67,103.41 L785.40,101.34 L787.12,99.23 L788.85,97.08" fill="none" stroke="#000" stroke-width="2.0" stroke-linejoin="round"/>
<path d="M652.60,183.00 L653.67,182.74 L654.74,182.47 L655.81,182.20 L656.89,181.92 L657.96,181.64 L659.03,181.35 L660.10,181.05 L661.17,180.75 L662.24,180.44 L663.31,180.12 L664.38,179.80 L665.46,179.48 L666.53,179.14 L667.60,178.80 L668.67,178.45 L669.74,178.10 L670.81,177.74 L671.88,177.37 L672.95,177.00 L674.03,176.62 L675.10,176.23 L676.17,175.84 L677.24,175.44 L678.31,175.03 L679.38,174.61 L680.45,174.19 L681.52,173.76 L682.60,173.32 L683.67,172.88 L684.74,172.43 L685.81,171.97 L686.88,171.50 L687.95,171.03 L689.02,170.54 L690.09,170.05 L691.17,169.55 L692.24,169.05 L693.31,168.53 L694.38,168.01 L695.45,167.48 L696.52,166.94 L697.59,166.40 L698.66,165.84 L699.74,165.28 L700.81,164.70 L701.88,164.12 L702.95,163.54 L704.02,162.94 L705.09,162.33 L706.16,161.72 L707.23,161.09 L708.31,160.46 L709.38,159.82 L710.45,159.17 L711.52,158.51 L712.59,157.84 L713.66,157.16 L714.73,156.47 L715.80,155.78 L716.88,155.07 L717.95,154.35 L719.02,153.63 L720.09,152.89 L721.16,152.15 L722.23,151.40 L723.30,150.63 L724.37,149.86 L725.45,149.07 L726.52,148.28 L727.59,147.48 L728.66,146.66 L729.73,145.84 L730.80,145.01 L731.87,144.16 L732.94,143.31 L734.02,142.44 L735.09,141.57 L736.16,140.68 L737.23,139.78" fill="none" stroke="#000" stroke-width="2.0" stroke-linejoin="round"/>
<path d="M652.60,183.00 L654.32,182.64 L656.05,182.27 L657.77,181.89 L659.50,181.51 L661.22,181.13 L662.95,180.73 L664.67,180.33 L666.40,179.92 L668.12,179.50 L669.85,179.07 L671.57,178.63 L673.30,178.19 L675.02,177.73 L676.74,177.26 L678.47,176.77 L680.19,176.28 L681.92,175.77 L683.64,175.25 L685.37,174.71 L687.09,174.16 L688.82,173.60 L690.54,173.02 L692.27,172.42 L693.99,171.81 L695.72,171.18 L697.44,170.53 L699.16,169.87 L700.89,169.18 L702.61,168.48 L704.34,167.75 L706.06,167.01 L707.79,166.24 L709.51,165.46 L711.24,164.65 L712.96,163.82 L714.69,162.96 L716.41,162.09 L718.14,161.19 L719.86,160.26 L721.58,159.31 L723.31,158.33 L725.03,157.33 L726.76,156.30 L728.48,155.25 L730.21,154.16 L731.93,153.05 L733.66,151.91 L735.38,150.74 L737.11,149.54 L738.83,148.31 L740.56,147.05 L742.28,145.75 L744.00,144.43 L745.73,143.07 L747.45,141.68 L749.18,140.26 L750.90,138.80 L752.63,137.31 L754.35,135.79 L756.08,134.22 L757.80,132.62 L759.53,130.99 L761.25,129.32 L762.98,127.61 L764.70,125.86 L766.42,124.07 L768.15,122.25 L769.87,120.38 L771.60,118.47 L773.32,116.53 L775.05,114.54 L776.77,112.51 L778.50,110.44 L780.22,108.32 L781.95,106.16 L783.67,103.96 L785.40,101.71 L787.12,99.42 L788.85,97.08" fill="none" stroke="#000" stroke-width="2.0" stroke-linejoin="round"/>
<g font-size="13.5" font-weight="bold"><text x="694" y="143.8">20%</text><text x="742.5" y="101.8">30%</text><text x="789" y="38.8">40%</text></g>
<line x1="721.0" y1="137.5" x2="735.0" y2="140.2" stroke="#000" stroke-width="1"/>
<path d="M738.0,140.2 L731.7,141.4 L732.4,137.1 Z" fill="#000"/>
<line x1="768.5" y1="95.6" x2="785.7" y2="98.3" stroke="#000" stroke-width="1"/>
<path d="M788.7,98.3 L782.5,99.7 L783.0,95.3 Z" fill="#000"/>
<line x1="815.3" y1="32.2" x2="831.8" y2="33.0" stroke="#000" stroke-width="1"/>
<path d="M834.8,33.0 L828.7,35.0 L828.9,30.6 Z" fill="#000"/>
<text x="3.5" y="407.5" font-size="24" font-weight="bold">c</text>
<defs>
<linearGradient id="floor" x1="0" y1="0" x2="0" y2="1">
<stop offset="0" stop-color="#3e3018"/>
<stop offset="0.1" stop-color="#2a2010"/>
<stop offset="0.3" stop-color="#161008"/>
<stop offset="0.55" stop-color="#2a200e"/>
<stop offset="0.8" stop-color="#463618"/>
<stop offset="1" stop-color="#3a2c12"/>
</linearGradient>
<filter id="bumpy" x="-5%" y="-5%" width="110%" height="110%"><feTurbulence type="fractalNoise" baseFrequency="0.09" numOctaves="2" seed="12" result="n"/><feDisplacementMap in="SourceGraphic" in2="n" scale="6" xChannelSelector="R" yChannelSelector="G"/></filter>
<filter id="soft2" x="-5%" y="-20%" width="110%" height="140%"><feGaussianBlur stdDeviation="1.5"/></filter>
<linearGradient id="cyl2" gradientUnits="userSpaceOnUse" x1="311" y1="0" x2="461" y2="0">
<stop offset="0" stop-color="#120a03"/>
<stop offset="0.05" stop-color="#33230a"/>
<stop offset="0.25" stop-color="#4a3410"/>
<stop offset="0.42" stop-color="#644616"/>
<stop offset="0.52" stop-color="#8e6624"/>
<stop offset="0.57" stop-color="#c89648"/>
<stop offset="0.595" stop-color="#fff0c0"/>
<stop offset="0.64" stop-color="#fffae6"/>
<stop offset="0.665" stop-color="#f8d080"/>
<stop offset="0.7" stop-color="#d09a45"/>
<stop offset="0.82" stop-color="#a87a30"/>
<stop offset="0.93" stop-color="#805218"/>
<stop offset="0.98" stop-color="#4a2e0a"/>
<stop offset="1" stop-color="#1a0e04"/>
</linearGradient>
<linearGradient id="cyl3" gradientUnits="userSpaceOnUse" x1="540" y1="0" x2="773" y2="0">
<stop offset="0" stop-color="#050302"/>
<stop offset="0.07" stop-color="#2a1c08"/>
<stop offset="0.2" stop-color="#3c2b10"/>
<stop offset="0.35" stop-color="#5a4018"/>
<stop offset="0.5" stop-color="#7a5826"/>
<stop offset="0.58" stop-color="#94703a"/>
<stop offset="0.62" stop-color="#c8a060"/>
<stop offset="0.645" stop-color="#fff0c8"/>
<stop offset="0.7" stop-color="#fff8e0"/>
<stop offset="0.72" stop-color="#f0c878"/>
<stop offset="0.76" stop-color="#c89a58"/>
<stop offset="0.86" stop-color="#a88048"/>
<stop offset="0.93" stop-color="#96683a"/>
<stop offset="0.96" stop-color="#9e5818"/>
<stop offset="0.985" stop-color="#7a3a0a"/>
<stop offset="1" stop-color="#2a1404"/>
</linearGradient>
<linearGradient id="g1" x1="0" y1="0" x2="0.2" y2="1">
<stop offset="0" stop-color="#e0d8bc"/>
<stop offset="0.4" stop-color="#d8cca6"/>
<stop offset="0.7" stop-color="#e6d298"/>
<stop offset="1" stop-color="#eccc84"/>
</linearGradient>
<linearGradient id="g4" x1="0" y1="0" x2="0.2" y2="1">
<stop offset="0" stop-color="#e2dabe"/>
<stop offset="0.4" stop-color="#dacea8"/>
<stop offset="0.7" stop-color="#e8d49a"/>
<stop offset="1" stop-color="#eecc84"/>
</linearGradient>
<linearGradient id="g2" x1="0" y1="0" x2="1" y2="0">
<stop offset="0" stop-color="#e2d2a2"/>
<stop offset="0.2" stop-color="#cfbd8e"/>
<stop offset="0.38" stop-color="#9c8a68"/>
<stop offset="0.6" stop-color="#7e6e52"/>
<stop offset="0.82" stop-color="#8e7e60"/>
<stop offset="1" stop-color="#a89872"/>
</linearGradient>
<linearGradient id="g3" x1="0" y1="0" x2="1" y2="0">
<stop offset="0" stop-color="#e0c888"/>
<stop offset="0.22" stop-color="#c8b07a"/>
<stop offset="0.45" stop-color="#a09070"/>
<stop offset="0.7" stop-color="#948a70"/>
<stop offset="0.9" stop-color="#a09680"/>
<stop offset="1" stop-color="#b4a88a"/>
</linearGradient>
<linearGradient id="refl" x1="0" y1="0" x2="0" y2="1">
<stop offset="0" stop-color="#000" stop-opacity="0"/>
<stop offset="1" stop-color="#000" stop-opacity="0.35"/>
</linearGradient>
<filter id="blur1" x="-10%" y="-10%" width="120%" height="120%"><feGaussianBlur stdDeviation="1.2"/></filter>
<filter id="blur2" x="-10%" y="-10%" width="120%" height="120%"><feGaussianBlur stdDeviation="2.5"/></filter>
<filter id="blur6" x="-50%" y="-50%" width="200%" height="200%"><feGaussianBlur stdDeviation="6"/></filter>
<filter id="soft" x="-5%" y="-5%" width="110%" height="110%"><feGaussianBlur stdDeviation="0.7"/></filter>
<filter id="brush" x="0" y="0" width="1" height="1" filterUnits="objectBoundingBox" primitiveUnits="userSpaceOnUse"><feTurbulence type="fractalNoise" baseFrequency="0.35 0.03" numOctaves="2" seed="9" result="t"/><feColorMatrix in="t" type="matrix" values="0 0 0 0 0.1  0 0 0 0 0.07  0 0 0 0 0.02  0 0 0 -2.2 1.2"/></filter>
<filter id="speck" x="0" y="0" width="1" height="1" filterUnits="objectBoundingBox" primitiveUnits="userSpaceOnUse"><feTurbulence type="fractalNoise" baseFrequency="0.6" numOctaves="1" seed="4" result="t"/><feColorMatrix in="t" type="matrix" values="0 0 0 0 1  0 0 0 0 0.85  0 0 0 0 0.5  6 0 0 0 -4.1"/></filter>
<filter id="texw3" x="0" y="0" width="1" height="1" filterUnits="objectBoundingBox" primitiveUnits="userSpaceOnUse"><feTurbulence type="turbulence" baseFrequency="0.07 0.11" numOctaves="3" seed="3" result="t"/><feColorMatrix in="t" type="matrix" values="0 0 0 0 1  0 0 0 0 0.97  0 0 0 0 0.88  -5.5 0 0 0 1.05"/></filter><filter id="texd3" x="0" y="0" width="1" height="1" filterUnits="objectBoundingBox" primitiveUnits="userSpaceOnUse"><feTurbulence type="fractalNoise" baseFrequency="0.1 0.08" numOctaves="3" seed="14" result="t"/><feColorMatrix in="t" type="matrix" values="0 0 0 0 0.40  0 0 0 0 0.36  0 0 0 0 0.26  0 3.6 0 0 -1.8"/></filter><filter id="texw21" x="0" y="0" width="1" height="1" filterUnits="objectBoundingBox" primitiveUnits="userSpaceOnUse"><feTurbulence type="turbulence" baseFrequency="0.07 0.11" numOctaves="3" seed="21" result="t"/><feColorMatrix in="t" type="matrix" values="0 0 0 0 1  0 0 0 0 0.97  0 0 0 0 0.88  -5.5 0 0 0 1.05"/></filter><filter id="texd21" x="0" y="0" width="1" height="1" filterUnits="objectBoundingBox" primitiveUnits="userSpaceOnUse"><feTurbulence type="fractalNoise" baseFrequency="0.1 0.08" numOctaves="3" seed="32" result="t"/><feColorMatrix in="t" type="matrix" values="0 0 0 0 0.40  0 0 0 0 0.36  0 0 0 0 0.26  0 3.6 0 0 -1.8"/></filter><filter id="texw41" x="0" y="0" width="1" height="1" filterUnits="objectBoundingBox" primitiveUnits="userSpaceOnUse"><feTurbulence type="turbulence" baseFrequency="0.07 0.11" numOctaves="3" seed="41" result="t"/><feColorMatrix in="t" type="matrix" values="0 0 0 0 1  0 0 0 0 0.97  0 0 0 0 0.88  -5.5 0 0 0 1.05"/></filter><filter id="texd41" x="0" y="0" width="1" height="1" filterUnits="objectBoundingBox" primitiveUnits="userSpaceOnUse"><feTurbulence type="fractalNoise" baseFrequency="0.1 0.08" numOctaves="3" seed="52" result="t"/><feColorMatrix in="t" type="matrix" values="0 0 0 0 0.40  0 0 0 0 0.36  0 0 0 0 0.26  0 3.6 0 0 -1.8"/></filter><filter id="texw61" x="0" y="0" width="1" height="1" filterUnits="objectBoundingBox" primitiveUnits="userSpaceOnUse"><feTurbulence type="turbulence" baseFrequency="0.07 0.11" numOctaves="3" seed="61" result="t"/><feColorMatrix in="t" type="matrix" values="0 0 0 0 1  0 0 0 0 0.97  0 0 0 0 0.88  -5.5 0 0 0 1.05"/></filter><filter id="texd61" x="0" y="0" width="1" height="1" filterUnits="objectBoundingBox" primitiveUnits="userSpaceOnUse"><feTurbulence type="fractalNoise" baseFrequency="0.1 0.08" numOctaves="3" seed="72" result="t"/><feColorMatrix in="t" type="matrix" values="0 0 0 0 0.40  0 0 0 0 0.36  0 0 0 0 0.26  0 3.6 0 0 -1.8"/></filter></defs>
<rect x="1" y="417.5" width="260.0" height="207.0" fill="#060402"/>
<clipPath id="pc1"><rect x="1" y="417.5" width="260.0" height="207.0"/></clipPath>
<g clip-path="url(#pc1)"><path d="M-2,574 L264,590 L264,627.5 L-2,627.5 Z" fill="url(#floor)" filter="url(#soft2)"/></g>
<rect x="266" y="417.5" width="257.0" height="207.0" fill="#060402"/>
<clipPath id="pc266"><rect x="266" y="417.5" width="257.0" height="207.0"/></clipPath>
<g clip-path="url(#pc266)"><path d="M263,578 L526,586 L526,627.5 L263,627.5 Z" fill="url(#floor)" filter="url(#soft2)"/></g>
<rect x="528" y="417.5" width="257.0" height="207.0" fill="#060402"/>
<clipPath id="pc528"><rect x="528" y="417.5" width="257.0" height="207.0"/></clipPath>
<g clip-path="url(#pc528)"><path d="M525,578 L788,586 L788,627.5 L525,627.5 Z" fill="url(#floor)" filter="url(#soft2)"/></g>
<rect x="790" y="417.5" width="258.7" height="207.0" fill="#060402"/>
<clipPath id="pc790"><rect x="790" y="417.5" width="258.7" height="207.0"/></clipPath>
<g clip-path="url(#pc790)"><path d="M787,577 L1051,590 L1051,627.5 L787,627.5 Z" fill="url(#floor)" filter="url(#soft2)"/></g>
<rect x="311" y="417.5" width="150" height="116" fill="url(#cyl2)"/>
<rect x="540" y="417.5" width="233" height="131" fill="url(#cyl3)"/>
<rect x="311" y="417.5" width="85" height="116" fill="#fff" filter="url(#brush)" opacity="0.2"/>
<rect x="418" y="417.5" width="43" height="116" fill="#fff" filter="url(#brush)" opacity="0.2"/>
<rect x="311" y="417.5" width="150" height="116" fill="#fff" filter="url(#speck)" opacity="0.25"/>
<rect x="552" y="417.5" width="130" height="126" fill="#fff" filter="url(#brush)" opacity="0.18"/>
<rect x="710" y="417.5" width="63" height="126" fill="#fff" filter="url(#brush)" opacity="0.18"/>
<rect x="552" y="417.5" width="221" height="126" fill="#fff" filter="url(#speck)" opacity="0.2"/>
<rect x="540" y="548" width="233" height="5.5" fill="url(#cyl3)"/><rect x="552" y="543.5" width="218" height="6" fill="#e0b878" opacity="0.25" filter="url(#blur1)"/><rect x="548" y="550.5" width="225" height="3" fill="#3a2a12" opacity="0.5"/>
<ellipse cx="699" cy="540" rx="14" ry="8" fill="#fff4d0" opacity="0.8" filter="url(#blur2)"/>
<g filter="url(#bumpy)">
<clipPath id="clipg1"><path d="M73.4,523.0 C75.0,520.1 78.5,518.9 81.1,517.3 C83.7,515.7 84.3,514.7 88.8,513.4 C93.3,512.1 100.0,510.5 108.0,509.6 C116.0,508.7 127.1,508.3 136.7,508.1 C146.3,507.9 157.2,508.4 165.5,508.6 C173.8,508.9 182.3,508.8 186.6,509.6 C190.9,510.4 190.3,511.2 191.4,513.4 C192.5,515.6 193.2,518.8 193.3,523.0 C193.5,527.2 192.9,532.6 192.3,538.4 C191.7,544.1 190.4,551.8 189.5,557.5 C188.6,563.2 188.0,568.7 186.6,572.9 C185.2,577.1 182.7,580.1 180.8,582.5 C179.0,584.9 176.2,586.0 175.5,587.5 C174.8,589.0 175.3,589.5 176.5,591.5 C177.7,593.5 180.9,596.7 182.7,599.7 C184.5,602.7 187.0,607.0 187.5,609.3 C188.0,611.5 187.7,612.3 185.6,613.2 C183.5,614.1 186.4,614.4 175.1,614.7 C163.8,615.0 133.5,615.2 117.5,615.1 C101.5,615.0 87.2,614.6 79.2,614.1 C71.2,613.6 71.7,614.3 69.6,612.2 C67.5,610.1 67.3,605.3 66.7,601.6 C66.1,597.9 65.8,594.2 65.8,590.1 C65.8,586.0 66.2,581.2 66.7,576.7 C67.2,572.2 68.1,568.1 68.6,563.3 C69.1,558.5 69.1,552.8 69.6,548.0 C70.1,543.2 70.9,538.7 71.5,534.5 C72.1,530.3 71.8,525.9 73.4,523.0Z"/></clipPath>
<path d="M73.4,523.0 C75.0,520.1 78.5,518.9 81.1,517.3 C83.7,515.7 84.3,514.7 88.8,513.4 C93.3,512.1 100.0,510.5 108.0,509.6 C116.0,508.7 127.1,508.3 136.7,508.1 C146.3,507.9 157.2,508.4 165.5,508.6 C173.8,508.9 182.3,508.8 186.6,509.6 C190.9,510.4 190.3,511.2 191.4,513.4 C192.5,515.6 193.2,518.8 193.3,523.0 C193.5,527.2 192.9,532.6 192.3,538.4 C191.7,544.1 190.4,551.8 189.5,557.5 C188.6,563.2 188.0,568.7 186.6,572.9 C185.2,577.1 182.7,580.1 180.8,582.5 C179.0,584.9 176.2,586.0 175.5,587.5 C174.8,589.0 175.3,589.5 176.5,591.5 C177.7,593.5 180.9,596.7 182.7,599.7 C184.5,602.7 187.0,607.0 187.5,609.3 C188.0,611.5 187.7,612.3 185.6,613.2 C183.5,614.1 186.4,614.4 175.1,614.7 C163.8,615.0 133.5,615.2 117.5,615.1 C101.5,615.0 87.2,614.6 79.2,614.1 C71.2,613.6 71.7,614.3 69.6,612.2 C67.5,610.1 67.3,605.3 66.7,601.6 C66.1,597.9 65.8,594.2 65.8,590.1 C65.8,586.0 66.2,581.2 66.7,576.7 C67.2,572.2 68.1,568.1 68.6,563.3 C69.1,558.5 69.1,552.8 69.6,548.0 C70.1,543.2 70.9,538.7 71.5,534.5 C72.1,530.3 71.8,525.9 73.4,523.0Z" fill="url(#g1)"/>
<g clip-path="url(#clipg1)">
<ellipse cx="140.0" cy="538.0" rx="30.0" ry="16.0" fill="#6a6452" opacity="0.70" filter="url(#blur6)"/>
<ellipse cx="108.0" cy="548.0" rx="10.0" ry="12.0" fill="#6a6452" opacity="0.40" filter="url(#blur6)"/>
<path d="M73.4,523.0 C75.0,520.1 78.5,518.9 81.1,517.3 C83.7,515.7 84.3,514.7 88.8,513.4 C93.3,512.1 100.0,510.5 108.0,509.6 C116.0,508.7 127.1,508.3 136.7,508.1 C146.3,507.9 157.2,508.4 165.5,508.6 C173.8,508.9 182.3,508.8 186.6,509.6 C190.9,510.4 190.3,511.2 191.4,513.4 C192.5,515.6 193.2,518.8 193.3,523.0 C193.5,527.2 192.9,532.6 192.3,538.4 C191.7,544.1 190.4,551.8 189.5,557.5 C188.6,563.2 188.0,568.7 186.6,572.9 C185.2,577.1 182.7,580.1 180.8,582.5 C179.0,584.9 176.2,586.0 175.5,587.5 C174.8,589.0 175.3,589.5 176.5,591.5 C177.7,593.5 180.9,596.7 182.7,599.7 C184.5,602.7 187.0,607.0 187.5,609.3 C188.0,611.5 187.7,612.3 185.6,613.2 C183.5,614.1 186.4,614.4 175.1,614.7 C163.8,615.0 133.5,615.2 117.5,615.1 C101.5,615.0 87.2,614.6 79.2,614.1 C71.2,613.6 71.7,614.3 69.6,612.2 C67.5,610.1 67.3,605.3 66.7,601.6 C66.1,597.9 65.8,594.2 65.8,590.1 C65.8,586.0 66.2,581.2 66.7,576.7 C67.2,572.2 68.1,568.1 68.6,563.3 C69.1,558.5 69.1,552.8 69.6,548.0 C70.1,543.2 70.9,538.7 71.5,534.5 C72.1,530.3 71.8,525.9 73.4,523.0Z" fill="none" stroke="#fff6dc" stroke-width="7" opacity="0.35" filter="url(#blur2)"/>
<rect x="63.8" y="506.1" width="131.5" height="111.0" fill="#fff" filter="url(#texd3)" opacity="0.55"/>
<rect x="63.8" y="506.1" width="131.5" height="111.0" fill="#fff" filter="url(#texw3)" opacity="0.60"/>
<rect x="63.8" y="589.0" width="131.5" height="28.1" fill="#c08a30" opacity="0.22"/>
<rect x="63.8" y="588.0" width="131.5" height="2.2" fill="#3a2e18" opacity="0.25" filter="url(#blur1)"/>
</g>
</g>
<ellipse cx="179" cy="589.5" rx="4" ry="1.8" fill="#100a04" opacity="0.9"/>
<g filter="url(#bumpy)">
<clipPath id="clipg4"><path d="M862.9,527.4 C863.9,524.9 864.3,522.6 866.0,520.5 C867.7,518.4 869.6,516.5 873.2,514.9 C876.8,513.3 882.9,511.9 887.8,510.8 C892.6,509.7 896.4,508.8 902.3,508.3 C908.2,507.8 914.4,507.6 923.1,507.7 C931.8,507.8 945.6,508.4 954.3,508.7 C963.0,509.0 969.9,509.0 975.1,509.7 C980.3,510.4 983.6,511.0 985.5,512.9 C987.4,514.8 986.9,517.4 986.5,521.2 C986.1,525.0 984.6,531.2 983.4,535.7 C982.2,540.2 980.2,544.1 979.2,548.2 C978.2,552.4 977.8,556.5 977.1,560.6 C976.4,564.8 976.1,569.6 975.1,573.1 C974.1,576.6 972.5,579.1 970.9,581.4 C969.3,583.7 966.2,585.3 965.5,587.0 C964.8,588.7 965.2,589.7 966.5,591.5 C967.8,593.3 971.2,595.2 973.0,598.0 C974.8,600.8 976.8,606.0 977.1,608.4 C977.5,610.8 977.2,611.7 975.1,612.6 C973.0,613.5 973.4,613.2 964.7,613.6 C956.0,614.0 938.7,614.5 923.1,614.7 C907.5,614.9 882.3,615.1 871.2,614.7 C860.1,614.4 859.6,614.7 856.6,612.6 C853.6,610.5 854.2,606.0 853.5,602.2 C852.8,598.4 852.5,593.9 852.5,589.7 C852.5,585.6 853.0,581.8 853.5,577.3 C854.0,572.8 855.1,567.6 855.6,562.7 C856.1,557.9 855.9,552.7 856.6,548.2 C857.3,543.7 858.7,539.2 859.7,535.7 C860.8,532.2 861.9,529.9 862.9,527.4Z"/></clipPath>
<path d="M862.9,527.4 C863.9,524.9 864.3,522.6 866.0,520.5 C867.7,518.4 869.6,516.5 873.2,514.9 C876.8,513.3 882.9,511.9 887.8,510.8 C892.6,509.7 896.4,508.8 902.3,508.3 C908.2,507.8 914.4,507.6 923.1,507.7 C931.8,507.8 945.6,508.4 954.3,508.7 C963.0,509.0 969.9,509.0 975.1,509.7 C980.3,510.4 983.6,511.0 985.5,512.9 C987.4,514.8 986.9,517.4 986.5,521.2 C986.1,525.0 984.6,531.2 983.4,535.7 C982.2,540.2 980.2,544.1 979.2,548.2 C978.2,552.4 977.8,556.5 977.1,560.6 C976.4,564.8 976.1,569.6 975.1,573.1 C974.1,576.6 972.5,579.1 970.9,581.4 C969.3,583.7 966.2,585.3 965.5,587.0 C964.8,588.7 965.2,589.7 966.5,591.5 C967.8,593.3 971.2,595.2 973.0,598.0 C974.8,600.8 976.8,606.0 977.1,608.4 C977.5,610.8 977.2,611.7 975.1,612.6 C973.0,613.5 973.4,613.2 964.7,613.6 C956.0,614.0 938.7,614.5 923.1,614.7 C907.5,614.9 882.3,615.1 871.2,614.7 C860.1,614.4 859.6,614.7 856.6,612.6 C853.6,610.5 854.2,606.0 853.5,602.2 C852.8,598.4 852.5,593.9 852.5,589.7 C852.5,585.6 853.0,581.8 853.5,577.3 C854.0,572.8 855.1,567.6 855.6,562.7 C856.1,557.9 855.9,552.7 856.6,548.2 C857.3,543.7 858.7,539.2 859.7,535.7 C860.8,532.2 861.9,529.9 862.9,527.4Z" fill="url(#g4)"/>
<g clip-path="url(#clipg4)">
<ellipse cx="922.0" cy="540.0" rx="26.0" ry="14.0" fill="#6a6452" opacity="0.60" filter="url(#blur6)"/>
<ellipse cx="905.0" cy="560.0" rx="10.0" ry="10.0" fill="#6a6452" opacity="0.40" filter="url(#blur6)"/>
<path d="M862.9,527.4 C863.9,524.9 864.3,522.6 866.0,520.5 C867.7,518.4 869.6,516.5 873.2,514.9 C876.8,513.3 882.9,511.9 887.8,510.8 C892.6,509.7 896.4,508.8 902.3,508.3 C908.2,507.8 914.4,507.6 923.1,507.7 C931.8,507.8 945.6,508.4 954.3,508.7 C963.0,509.0 969.9,509.0 975.1,509.7 C980.3,510.4 983.6,511.0 985.5,512.9 C987.4,514.8 986.9,517.4 986.5,521.2 C986.1,525.0 984.6,531.2 983.4,535.7 C982.2,540.2 980.2,544.1 979.2,548.2 C978.2,552.4 977.8,556.5 977.1,560.6 C976.4,564.8 976.1,569.6 975.1,573.1 C974.1,576.6 972.5,579.1 970.9,581.4 C969.3,583.7 966.2,585.3 965.5,587.0 C964.8,588.7 965.2,589.7 966.5,591.5 C967.8,593.3 971.2,595.2 973.0,598.0 C974.8,600.8 976.8,606.0 977.1,608.4 C977.5,610.8 977.2,611.7 975.1,612.6 C973.0,613.5 973.4,613.2 964.7,613.6 C956.0,614.0 938.7,614.5 923.1,614.7 C907.5,614.9 882.3,615.1 871.2,614.7 C860.1,614.4 859.6,614.7 856.6,612.6 C853.6,610.5 854.2,606.0 853.5,602.2 C852.8,598.4 852.5,593.9 852.5,589.7 C852.5,585.6 853.0,581.8 853.5,577.3 C854.0,572.8 855.1,567.6 855.6,562.7 C856.1,557.9 855.9,552.7 856.6,548.2 C857.3,543.7 858.7,539.2 859.7,535.7 C860.8,532.2 861.9,529.9 862.9,527.4Z" fill="none" stroke="#fff6dc" stroke-width="7" opacity="0.35" filter="url(#blur2)"/>
<rect x="850.5" y="505.7" width="138.0" height="111.0" fill="#fff" filter="url(#texd21)" opacity="0.55"/>
<rect x="850.5" y="505.7" width="138.0" height="111.0" fill="#fff" filter="url(#texw21)" opacity="0.60"/>
<rect x="850.5" y="589.0" width="138.0" height="27.7" fill="#c08a30" opacity="0.22"/>
<rect x="850.5" y="588.0" width="138.0" height="2.2" fill="#3a2e18" opacity="0.25" filter="url(#blur1)"/>
</g>
</g>
<ellipse cx="966" cy="589.5" rx="4" ry="1.8" fill="#100a04" opacity="0.9"/>
<g filter="url(#bumpy)">
<clipPath id="clipg2"><path d="M307.0,541.0 C312.5,533.1 324.5,539.8 340.0,539.5 C355.5,539.2 380.1,539.3 400.0,539.5 C419.9,539.7 449.7,537.1 459.5,540.5 C469.3,543.9 459.4,553.8 459.0,560.0 C458.6,566.2 457.6,573.5 457.0,578.0 C456.4,582.5 455.9,583.3 455.7,587.0 C455.5,590.7 456.6,595.8 456.0,600.0 C455.4,604.2 461.3,610.2 452.0,612.5 C442.7,614.8 418.7,613.3 400.0,613.5 C381.3,613.7 355.2,613.7 340.0,613.5 C324.8,613.3 314.8,614.8 309.0,612.5 C303.2,610.2 305.3,604.2 305.0,600.0 C304.7,595.8 306.7,596.8 307.0,587.0 C307.3,577.2 301.5,548.9 307.0,541.0Z"/></clipPath>
<path d="M307.0,541.0 C312.5,533.1 324.5,539.8 340.0,539.5 C355.5,539.2 380.1,539.3 400.0,539.5 C419.9,539.7 449.7,537.1 459.5,540.5 C469.3,543.9 459.4,553.8 459.0,560.0 C458.6,566.2 457.6,573.5 457.0,578.0 C456.4,582.5 455.9,583.3 455.7,587.0 C455.5,590.7 456.6,595.8 456.0,600.0 C455.4,604.2 461.3,610.2 452.0,612.5 C442.7,614.8 418.7,613.3 400.0,613.5 C381.3,613.7 355.2,613.7 340.0,613.5 C324.8,613.3 314.8,614.8 309.0,612.5 C303.2,610.2 305.3,604.2 305.0,600.0 C304.7,595.8 306.7,596.8 307.0,587.0 C307.3,577.2 301.5,548.9 307.0,541.0Z" fill="url(#g2)"/>
<g clip-path="url(#clipg2)">
<ellipse cx="400.0" cy="560.0" rx="35.0" ry="12.0" fill="#6a6452" opacity="0.50" filter="url(#blur6)"/>
<ellipse cx="350.0" cy="575.0" rx="15.0" ry="10.0" fill="#6a6452" opacity="0.40" filter="url(#blur6)"/>
<path d="M307.0,541.0 C312.5,533.1 324.5,539.8 340.0,539.5 C355.5,539.2 380.1,539.3 400.0,539.5 C419.9,539.7 449.7,537.1 459.5,540.5 C469.3,543.9 459.4,553.8 459.0,560.0 C458.6,566.2 457.6,573.5 457.0,578.0 C456.4,582.5 455.9,583.3 455.7,587.0 C455.5,590.7 456.6,595.8 456.0,600.0 C455.4,604.2 461.3,610.2 452.0,612.5 C442.7,614.8 418.7,613.3 400.0,613.5 C381.3,613.7 355.2,613.7 340.0,613.5 C324.8,613.3 314.8,614.8 309.0,612.5 C303.2,610.2 305.3,604.2 305.0,600.0 C304.7,595.8 306.7,596.8 307.0,587.0 C307.3,577.2 301.5,548.9 307.0,541.0Z" fill="none" stroke="#fff6dc" stroke-width="7" opacity="0.35" filter="url(#blur2)"/>
<rect x="303.0" y="537.5" width="158.5" height="78.0" fill="#fff" filter="url(#texd41)" opacity="0.55"/>
<rect x="303.0" y="537.5" width="158.5" height="78.0" fill="#fff" filter="url(#texw41)" opacity="0.50"/>
<rect x="303.0" y="588.0" width="158.5" height="27.5" fill="#c08a30" opacity="0.22"/>
<rect x="303.0" y="587.0" width="158.5" height="2.2" fill="#3a2e18" opacity="0.25" filter="url(#blur1)"/>
</g>
</g>
<ellipse cx="396.5" cy="538.8" rx="121.5" ry="3.6" fill="#5a4a30"/>
<ellipse cx="396.5" cy="537.4" rx="118" ry="1.6" fill="#b0a080"/>
<g filter="url(#bumpy)">
<clipPath id="clipg3"><path d="M552.0,557.0 C559.8,551.7 583.7,556.2 600.0,556.0 C616.3,555.8 633.3,556.0 650.0,556.0 C666.7,556.0 685.0,555.7 700.0,556.0 C715.0,556.3 732.7,555.7 740.0,558.0 C747.3,560.3 743.7,565.8 744.0,570.0 C744.3,574.2 743.0,579.9 742.0,583.0 C741.0,586.1 737.7,585.7 738.0,588.5 C738.3,591.3 743.7,596.1 744.0,600.0 C744.3,603.9 747.3,609.9 740.0,612.0 C732.7,614.1 715.0,612.4 700.0,612.5 C685.0,612.6 666.7,612.5 650.0,612.5 C633.3,612.5 615.8,612.6 600.0,612.5 C584.2,612.4 563.2,614.1 555.0,612.0 C546.8,609.9 551.3,604.0 551.0,600.0 C550.7,596.0 552.8,595.2 553.0,588.0 C553.2,580.8 544.2,562.3 552.0,557.0Z"/></clipPath>
<path d="M552.0,557.0 C559.8,551.7 583.7,556.2 600.0,556.0 C616.3,555.8 633.3,556.0 650.0,556.0 C666.7,556.0 685.0,555.7 700.0,556.0 C715.0,556.3 732.7,555.7 740.0,558.0 C747.3,560.3 743.7,565.8 744.0,570.0 C744.3,574.2 743.0,579.9 742.0,583.0 C741.0,586.1 737.7,585.7 738.0,588.5 C738.3,591.3 743.7,596.1 744.0,600.0 C744.3,603.9 747.3,609.9 740.0,612.0 C732.7,614.1 715.0,612.4 700.0,612.5 C685.0,612.6 666.7,612.5 650.0,612.5 C633.3,612.5 615.8,612.6 600.0,612.5 C584.2,612.4 563.2,614.1 555.0,612.0 C546.8,609.9 551.3,604.0 551.0,600.0 C550.7,596.0 552.8,595.2 553.0,588.0 C553.2,580.8 544.2,562.3 552.0,557.0Z" fill="url(#g3)"/>
<g clip-path="url(#clipg3)">
<ellipse cx="640.0" cy="570.0" rx="30.0" ry="10.0" fill="#6a6452" opacity="0.40" filter="url(#blur6)"/>
<ellipse cx="700.0" cy="575.0" rx="25.0" ry="10.0" fill="#6a6452" opacity="0.40" filter="url(#blur6)"/>
<path d="M552.0,557.0 C559.8,551.7 583.7,556.2 600.0,556.0 C616.3,555.8 633.3,556.0 650.0,556.0 C666.7,556.0 685.0,555.7 700.0,556.0 C715.0,556.3 732.7,555.7 740.0,558.0 C747.3,560.3 743.7,565.8 744.0,570.0 C744.3,574.2 743.0,579.9 742.0,583.0 C741.0,586.1 737.7,585.7 738.0,588.5 C738.3,591.3 743.7,596.1 744.0,600.0 C744.3,603.9 747.3,609.9 740.0,612.0 C732.7,614.1 715.0,612.4 700.0,612.5 C685.0,612.6 666.7,612.5 650.0,612.5 C633.3,612.5 615.8,612.6 600.0,612.5 C584.2,612.4 563.2,614.1 555.0,612.0 C546.8,609.9 551.3,604.0 551.0,600.0 C550.7,596.0 552.8,595.2 553.0,588.0 C553.2,580.8 544.2,562.3 552.0,557.0Z" fill="none" stroke="#fff6dc" stroke-width="7" opacity="0.35" filter="url(#blur2)"/>
<rect x="549.0" y="554.0" width="197.0" height="60.5" fill="#fff" filter="url(#texd61)" opacity="0.55"/>
<rect x="549.0" y="554.0" width="197.0" height="60.5" fill="#fff" filter="url(#texw61)" opacity="0.50"/>
<rect x="549.0" y="589.0" width="197.0" height="25.5" fill="#c08a30" opacity="0.22"/>
<rect x="549.0" y="588.0" width="197.0" height="2.2" fill="#3a2e18" opacity="0.25" filter="url(#blur1)"/>
</g>
</g>
<ellipse cx="656" cy="556.3" rx="123" ry="2.6" fill="#5a4a30"/>
<ellipse cx="656" cy="555.2" rx="120" ry="1.3" fill="#c0a070"/>
<rect x="1.0" y="497.2" width="26.2" height="4.6" fill="#fff"/>
<text x="37.0" y="505.5" fill="#fff" font-size="16.5" text-anchor="middle">8</text>
<rect x="1.0" y="519.7" width="26.2" height="4.6" fill="#fff"/>
<text x="37.0" y="528.0" fill="#fff" font-size="16.5" text-anchor="middle">6</text>
<rect x="1.0" y="541.7" width="26.2" height="4.6" fill="#fff"/>
<text x="37.0" y="550.0" fill="#fff" font-size="16.5" text-anchor="middle">4</text>
<rect x="1.0" y="564.0" width="26.2" height="4.6" fill="#fff"/>
<text x="37.0" y="572.3" fill="#fff" font-size="16.5" text-anchor="middle">2</text>
<rect x="1.0" y="586.4" width="26.2" height="4.6" fill="#fff"/>
<text x="37.0" y="594.7" fill="#fff" font-size="16.5" text-anchor="middle">0</text>
<rect x="250.8" y="497.2" width="10.2" height="4.6" fill="#fff"/>
<rect x="250.8" y="519.7" width="10.2" height="4.6" fill="#fff"/>
<rect x="250.8" y="541.7" width="10.2" height="4.6" fill="#fff"/>
<rect x="250.8" y="564.0" width="10.2" height="4.6" fill="#fff"/>
<rect x="250.8" y="586.4" width="10.2" height="4.6" fill="#fff"/>
<rect x="266.0" y="497.2" width="10.3" height="4.6" fill="#fff"/>
<rect x="266.0" y="519.7" width="10.3" height="4.6" fill="#fff"/>
<rect x="266.0" y="541.7" width="10.3" height="4.6" fill="#fff"/>
<rect x="266.0" y="564.0" width="10.3" height="4.6" fill="#fff"/>
<rect x="266.0" y="586.4" width="10.3" height="4.6" fill="#fff"/>
<rect x="512.5" y="497.2" width="10.5" height="4.6" fill="#fff"/>
<rect x="512.5" y="519.7" width="10.5" height="4.6" fill="#fff"/>
<rect x="512.5" y="541.7" width="10.5" height="4.6" fill="#fff"/>
<rect x="512.5" y="564.0" width="10.5" height="4.6" fill="#fff"/>
<rect x="512.5" y="586.4" width="10.5" height="4.6" fill="#fff"/>
<rect x="528.0" y="497.2" width="10.8" height="4.6" fill="#fff"/>
<rect x="528.0" y="519.7" width="10.8" height="4.6" fill="#fff"/>
<rect x="528.0" y="541.7" width="10.8" height="4.6" fill="#fff"/>
<rect x="528.0" y="564.0" width="10.8" height="4.6" fill="#fff"/>
<rect x="528.0" y="586.4" width="10.8" height="4.6" fill="#fff"/>
<rect x="775.0" y="497.2" width="10.0" height="4.6" fill="#fff"/>
<rect x="775.0" y="519.7" width="10.0" height="4.6" fill="#fff"/>
<rect x="775.0" y="541.7" width="10.0" height="4.6" fill="#fff"/>
<rect x="775.0" y="564.0" width="10.0" height="4.6" fill="#fff"/>
<rect x="775.0" y="586.4" width="10.0" height="4.6" fill="#fff"/>
<rect x="790.0" y="497.2" width="10.5" height="4.6" fill="#fff"/>
<rect x="790.0" y="519.7" width="10.5" height="4.6" fill="#fff"/>
<rect x="790.0" y="541.7" width="10.5" height="4.6" fill="#fff"/>
<rect x="790.0" y="564.0" width="10.5" height="4.6" fill="#fff"/>
<rect x="790.0" y="586.4" width="10.5" height="4.6" fill="#fff"/>
<rect x="1024.3" y="497.2" width="24.4" height="4.6" fill="#fff"/>
<text x="1013.3" y="505.5" fill="#fff" font-size="16.5" text-anchor="middle">8</text>
<rect x="1024.3" y="519.7" width="24.4" height="4.6" fill="#fff"/>
<text x="1013.3" y="528.0" fill="#fff" font-size="16.5" text-anchor="middle">6</text>
<rect x="1024.3" y="541.7" width="24.4" height="4.6" fill="#fff"/>
<text x="1013.3" y="550.0" fill="#fff" font-size="16.5" text-anchor="middle">4</text>
<rect x="1024.3" y="564.0" width="24.4" height="4.6" fill="#fff"/>
<text x="1013.3" y="572.3" fill="#fff" font-size="16.5" text-anchor="middle">2</text>
<rect x="1024.3" y="586.4" width="24.4" height="4.6" fill="#fff"/>
<text x="1013.3" y="594.7" fill="#fff" font-size="16.5" text-anchor="middle">0</text>
<g fill="#fff" font-size="34.5">
<text x="13" y="448">1</text><text x="274" y="448">2</text><text x="536" y="448">3</text><text x="797.5" y="448">4</text></g>
</svg>
</body></html>
